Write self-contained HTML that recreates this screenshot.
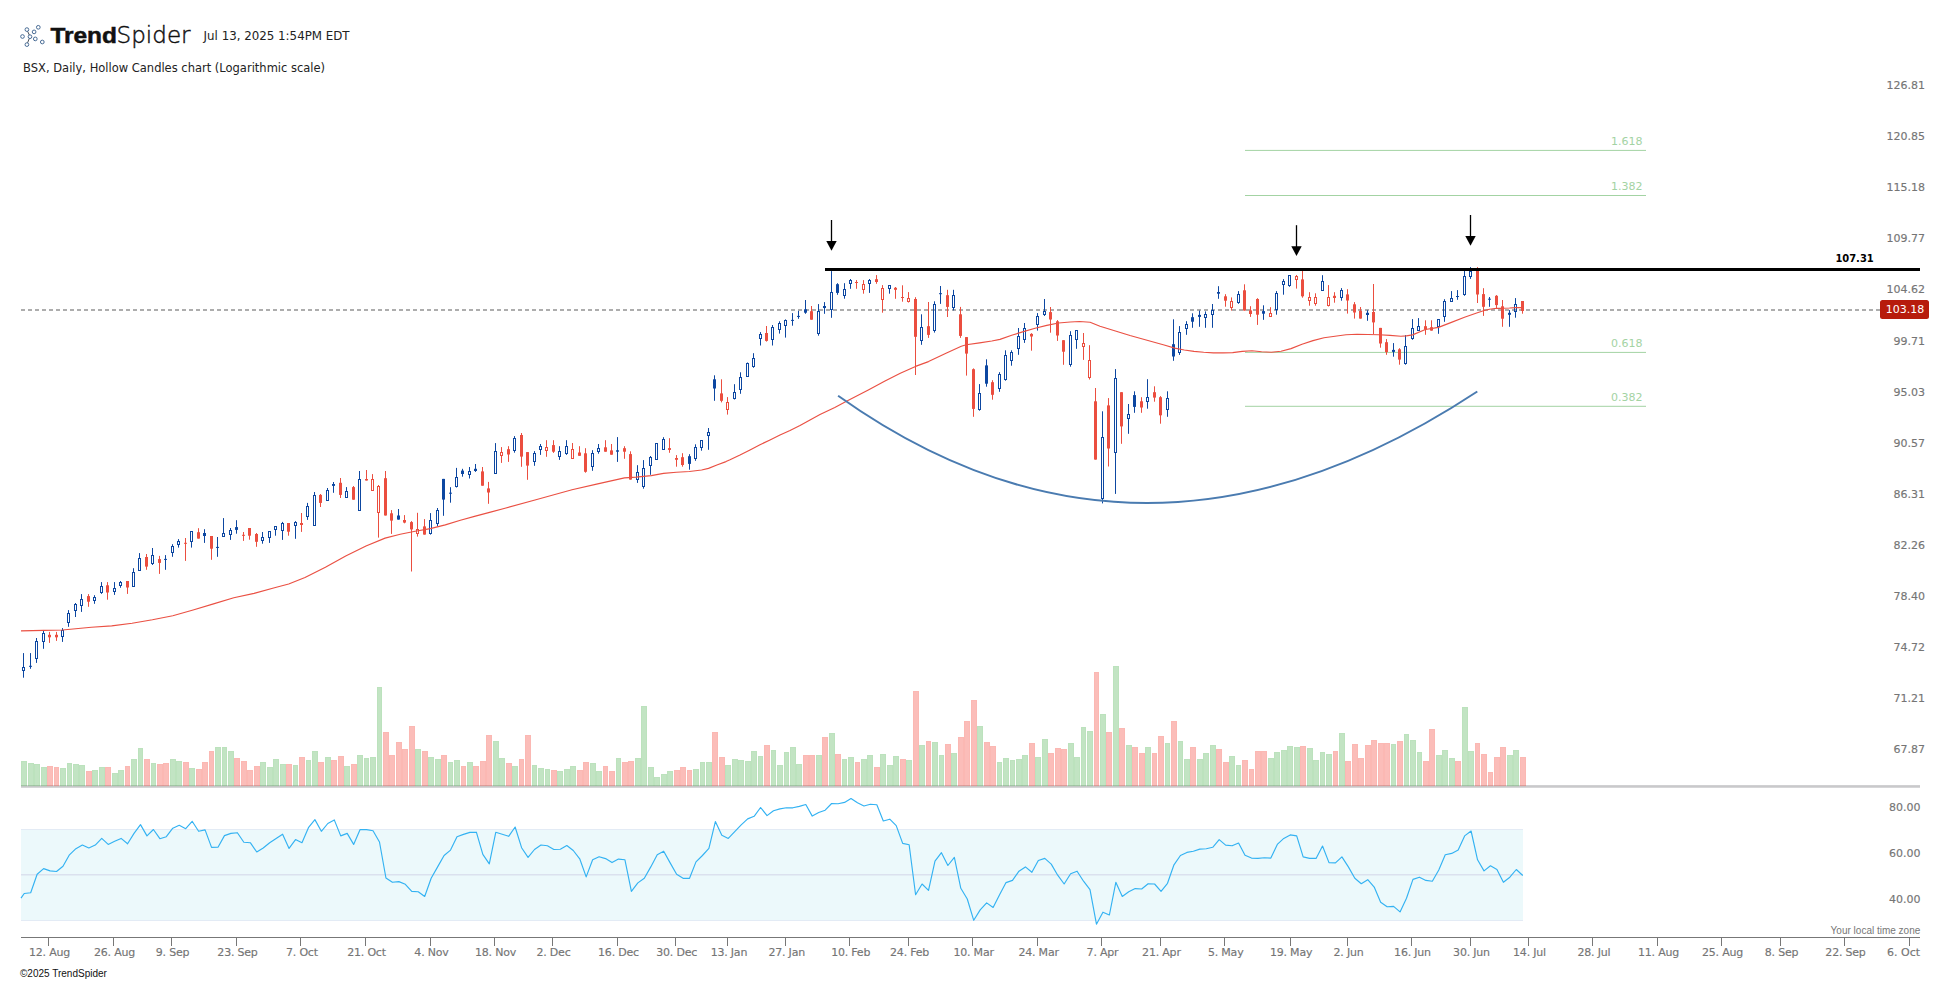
<!DOCTYPE html>
<html><head><meta charset="utf-8"><title>BSX Daily - TrendSpider</title>
<style>
html,body{margin:0;padding:0;background:#fff;}
body{width:1950px;height:983px;overflow:hidden;}
svg{display:block;}
text{font-family:"DejaVu Sans","Liberation Sans",sans-serif;}
.ax{font-size:11px;fill:#757575;stroke:#757575;stroke-width:0.15px;}
.axx{font-size:11px;fill:#757575;stroke:#757575;stroke-width:0.15px;text-anchor:middle;letter-spacing:-0.2px;}
.fib{font-size:11px;fill:#a3d3a3;text-anchor:end;}
.arial{font-family:"Liberation Sans",sans-serif;}
</style></head><body>
<svg width="1950" height="983" viewBox="0 0 1950 983">
<rect width="1950" height="983" fill="#fff"/>
<g id="logo" fill="none" stroke="#3f648f" stroke-width="0.95">
<path d="M27.6 31.3L29.3 35M29.2 38.6L27.6 42.8" stroke="#4a4f57" stroke-width="1"/>
<circle cx="22.5" cy="36.5" r="1.85"/>
<circle cx="26.9" cy="29.6" r="1.85"/>
<circle cx="30" cy="36.7" r="1.85"/>
<circle cx="26.9" cy="44.6" r="1.85"/>
<circle cx="34.1" cy="31.9" r="1.85"/>
<circle cx="38.3" cy="27.3" r="1.85"/>
<circle cx="35.3" cy="38.9" r="1.85"/>
<circle cx="42.3" cy="42" r="1.85"/>
</g>
<text x="50.4" y="42.7" style="font-family:'Liberation Sans',sans-serif;font-weight:bold;font-size:22.7px" fill="#111" stroke="#111" stroke-width="0.5" textLength="66.6" lengthAdjust="spacingAndGlyphs">Trend</text>
<text x="116.6" y="42.7" style="font-family:'DejaVu Sans Light','DejaVu Sans',sans-serif;font-weight:200;font-size:22.8px" fill="#111" stroke="#111" stroke-width="0.45" textLength="74" lengthAdjust="spacingAndGlyphs">Spider</text>
<text x="203.6" y="39.9" style="font-size:12px" fill="#222" textLength="146" lengthAdjust="spacingAndGlyphs">Jul 13, 2025 1:54PM EDT</text>
<text x="23.1" y="71.7" style="font-size:12px" fill="#222" textLength="302" lengthAdjust="spacingAndGlyphs">BSX, Daily, Hollow Candles chart (Logarithmic scale)</text>
<rect x="21" y="785.15" width="1899" height="2.6" fill="#c9c9cb"/>
<g id="volume" shape-rendering="crispEdges">
<rect x="21" y="761" width="6" height="25" fill="rgba(76,175,80,0.34)"/><rect x="21.5" y="761.5" width="5" height="25" fill="none" stroke="rgba(76,175,80,0.045)"/>
<rect x="28" y="763" width="6" height="23" fill="rgba(76,175,80,0.34)"/><rect x="28.5" y="763.5" width="5" height="23" fill="none" stroke="rgba(76,175,80,0.045)"/>
<rect x="34" y="764" width="6" height="22" fill="rgba(76,175,80,0.34)"/><rect x="34.5" y="764.5" width="5" height="22" fill="none" stroke="rgba(76,175,80,0.045)"/>
<rect x="41" y="767" width="6" height="19" fill="rgba(76,175,80,0.34)"/><rect x="41.5" y="767.5" width="5" height="19" fill="none" stroke="rgba(76,175,80,0.045)"/>
<rect x="47" y="766" width="6" height="20" fill="rgba(244,67,54,0.35)"/><rect x="47.5" y="766.5" width="5" height="20" fill="none" stroke="rgba(244,67,54,0.04)"/>
<rect x="54" y="767" width="5" height="19" fill="rgba(244,67,54,0.35)"/><rect x="54.5" y="767.5" width="4" height="19" fill="none" stroke="rgba(244,67,54,0.04)"/>
<rect x="60" y="768" width="6" height="18" fill="rgba(76,175,80,0.34)"/><rect x="60.5" y="768.5" width="5" height="18" fill="none" stroke="rgba(76,175,80,0.045)"/>
<rect x="67" y="763" width="5" height="23" fill="rgba(76,175,80,0.34)"/><rect x="67.5" y="763.5" width="4" height="23" fill="none" stroke="rgba(76,175,80,0.045)"/>
<rect x="73" y="764" width="6" height="22" fill="rgba(76,175,80,0.34)"/><rect x="73.5" y="764.5" width="5" height="22" fill="none" stroke="rgba(76,175,80,0.045)"/>
<rect x="79" y="765" width="6" height="21" fill="rgba(76,175,80,0.34)"/><rect x="79.5" y="765.5" width="5" height="21" fill="none" stroke="rgba(76,175,80,0.045)"/>
<rect x="86" y="771" width="6" height="15" fill="rgba(244,67,54,0.35)"/><rect x="86.5" y="771.5" width="5" height="15" fill="none" stroke="rgba(244,67,54,0.04)"/>
<rect x="92" y="770" width="6" height="16" fill="rgba(76,175,80,0.34)"/><rect x="92.5" y="770.5" width="5" height="16" fill="none" stroke="rgba(76,175,80,0.045)"/>
<rect x="99" y="767" width="6" height="19" fill="rgba(76,175,80,0.34)"/><rect x="99.5" y="767.5" width="5" height="19" fill="none" stroke="rgba(76,175,80,0.045)"/>
<rect x="105" y="767" width="6" height="19" fill="rgba(244,67,54,0.35)"/><rect x="105.5" y="767.5" width="5" height="19" fill="none" stroke="rgba(244,67,54,0.04)"/>
<rect x="112" y="773" width="6" height="13" fill="rgba(76,175,80,0.34)"/><rect x="112.5" y="773.5" width="5" height="13" fill="none" stroke="rgba(76,175,80,0.045)"/>
<rect x="118" y="770" width="6" height="16" fill="rgba(76,175,80,0.34)"/><rect x="118.5" y="770.5" width="5" height="16" fill="none" stroke="rgba(76,175,80,0.045)"/>
<rect x="125" y="766" width="5" height="20" fill="rgba(244,67,54,0.35)"/><rect x="125.5" y="766.5" width="4" height="20" fill="none" stroke="rgba(244,67,54,0.04)"/>
<rect x="131" y="759" width="6" height="27" fill="rgba(76,175,80,0.34)"/><rect x="131.5" y="759.5" width="5" height="27" fill="none" stroke="rgba(76,175,80,0.045)"/>
<rect x="138" y="748" width="5" height="38" fill="rgba(76,175,80,0.34)"/><rect x="138.5" y="748.5" width="4" height="38" fill="none" stroke="rgba(76,175,80,0.045)"/>
<rect x="144" y="759" width="6" height="27" fill="rgba(244,67,54,0.35)"/><rect x="144.5" y="759.5" width="5" height="27" fill="none" stroke="rgba(244,67,54,0.04)"/>
<rect x="151" y="763" width="5" height="23" fill="rgba(76,175,80,0.34)"/><rect x="151.5" y="763.5" width="4" height="23" fill="none" stroke="rgba(76,175,80,0.045)"/>
<rect x="157" y="764" width="6" height="22" fill="rgba(244,67,54,0.35)"/><rect x="157.5" y="764.5" width="5" height="22" fill="none" stroke="rgba(244,67,54,0.04)"/>
<rect x="163" y="763" width="6" height="23" fill="rgba(244,67,54,0.35)"/><rect x="163.5" y="763.5" width="5" height="23" fill="none" stroke="rgba(244,67,54,0.04)"/>
<rect x="170" y="759" width="6" height="27" fill="rgba(76,175,80,0.34)"/><rect x="170.5" y="759.5" width="5" height="27" fill="none" stroke="rgba(76,175,80,0.045)"/>
<rect x="176" y="761" width="6" height="25" fill="rgba(76,175,80,0.34)"/><rect x="176.5" y="761.5" width="5" height="25" fill="none" stroke="rgba(76,175,80,0.045)"/>
<rect x="183" y="762" width="6" height="24" fill="rgba(244,67,54,0.35)"/><rect x="183.5" y="762.5" width="5" height="24" fill="none" stroke="rgba(244,67,54,0.04)"/>
<rect x="189" y="768" width="6" height="18" fill="rgba(76,175,80,0.34)"/><rect x="189.5" y="768.5" width="5" height="18" fill="none" stroke="rgba(76,175,80,0.045)"/>
<rect x="196" y="769" width="6" height="17" fill="rgba(244,67,54,0.35)"/><rect x="196.5" y="769.5" width="5" height="17" fill="none" stroke="rgba(244,67,54,0.04)"/>
<rect x="202" y="762" width="6" height="24" fill="rgba(244,67,54,0.35)"/><rect x="202.5" y="762.5" width="5" height="24" fill="none" stroke="rgba(244,67,54,0.04)"/>
<rect x="209" y="751" width="5" height="35" fill="rgba(244,67,54,0.35)"/><rect x="209.5" y="751.5" width="4" height="35" fill="none" stroke="rgba(244,67,54,0.04)"/>
<rect x="215" y="747" width="6" height="39" fill="rgba(76,175,80,0.34)"/><rect x="215.5" y="747.5" width="5" height="39" fill="none" stroke="rgba(76,175,80,0.045)"/>
<rect x="222" y="747" width="5" height="39" fill="rgba(76,175,80,0.34)"/><rect x="222.5" y="747.5" width="4" height="39" fill="none" stroke="rgba(76,175,80,0.045)"/>
<rect x="228" y="751" width="6" height="35" fill="rgba(76,175,80,0.34)"/><rect x="228.5" y="751.5" width="5" height="35" fill="none" stroke="rgba(76,175,80,0.045)"/>
<rect x="234" y="758" width="6" height="28" fill="rgba(244,67,54,0.35)"/><rect x="234.5" y="758.5" width="5" height="28" fill="none" stroke="rgba(244,67,54,0.04)"/>
<rect x="241" y="761" width="6" height="25" fill="rgba(244,67,54,0.35)"/><rect x="241.5" y="761.5" width="5" height="25" fill="none" stroke="rgba(244,67,54,0.04)"/>
<rect x="247" y="770" width="6" height="16" fill="rgba(244,67,54,0.35)"/><rect x="247.5" y="770.5" width="5" height="16" fill="none" stroke="rgba(244,67,54,0.04)"/>
<rect x="254" y="766" width="6" height="20" fill="rgba(244,67,54,0.35)"/><rect x="254.5" y="766.5" width="5" height="20" fill="none" stroke="rgba(244,67,54,0.04)"/>
<rect x="260" y="762" width="6" height="24" fill="rgba(76,175,80,0.34)"/><rect x="260.5" y="762.5" width="5" height="24" fill="none" stroke="rgba(76,175,80,0.045)"/>
<rect x="267" y="767" width="6" height="19" fill="rgba(76,175,80,0.34)"/><rect x="267.5" y="767.5" width="5" height="19" fill="none" stroke="rgba(76,175,80,0.045)"/>
<rect x="273" y="759" width="6" height="27" fill="rgba(76,175,80,0.34)"/><rect x="273.5" y="759.5" width="5" height="27" fill="none" stroke="rgba(76,175,80,0.045)"/>
<rect x="280" y="764" width="6" height="22" fill="rgba(76,175,80,0.34)"/><rect x="280.5" y="764.5" width="5" height="22" fill="none" stroke="rgba(76,175,80,0.045)"/>
<rect x="286" y="764" width="6" height="22" fill="rgba(244,67,54,0.35)"/><rect x="286.5" y="764.5" width="5" height="22" fill="none" stroke="rgba(244,67,54,0.04)"/>
<rect x="293" y="765" width="5" height="21" fill="rgba(76,175,80,0.34)"/><rect x="293.5" y="765.5" width="4" height="21" fill="none" stroke="rgba(76,175,80,0.045)"/>
<rect x="299" y="757" width="6" height="29" fill="rgba(244,67,54,0.35)"/><rect x="299.5" y="757.5" width="5" height="29" fill="none" stroke="rgba(244,67,54,0.04)"/>
<rect x="306" y="760" width="5" height="26" fill="rgba(76,175,80,0.34)"/><rect x="306.5" y="760.5" width="4" height="26" fill="none" stroke="rgba(76,175,80,0.045)"/>
<rect x="312" y="751" width="6" height="35" fill="rgba(76,175,80,0.34)"/><rect x="312.5" y="751.5" width="5" height="35" fill="none" stroke="rgba(76,175,80,0.045)"/>
<rect x="318" y="762" width="6" height="24" fill="rgba(244,67,54,0.35)"/><rect x="318.5" y="762.5" width="5" height="24" fill="none" stroke="rgba(244,67,54,0.04)"/>
<rect x="325" y="757" width="6" height="29" fill="rgba(76,175,80,0.34)"/><rect x="325.5" y="757.5" width="5" height="29" fill="none" stroke="rgba(76,175,80,0.045)"/>
<rect x="331" y="760" width="6" height="26" fill="rgba(244,67,54,0.35)"/><rect x="331.5" y="760.5" width="5" height="26" fill="none" stroke="rgba(244,67,54,0.04)"/>
<rect x="338" y="756" width="6" height="30" fill="rgba(244,67,54,0.35)"/><rect x="338.5" y="756.5" width="5" height="30" fill="none" stroke="rgba(244,67,54,0.04)"/>
<rect x="344" y="766" width="6" height="20" fill="rgba(76,175,80,0.34)"/><rect x="344.5" y="766.5" width="5" height="20" fill="none" stroke="rgba(76,175,80,0.045)"/>
<rect x="351" y="764" width="6" height="22" fill="rgba(244,67,54,0.35)"/><rect x="351.5" y="764.5" width="5" height="22" fill="none" stroke="rgba(244,67,54,0.04)"/>
<rect x="357" y="755" width="6" height="31" fill="rgba(76,175,80,0.34)"/><rect x="357.5" y="755.5" width="5" height="31" fill="none" stroke="rgba(76,175,80,0.045)"/>
<rect x="364" y="758" width="5" height="28" fill="rgba(76,175,80,0.34)"/><rect x="364.5" y="758.5" width="4" height="28" fill="none" stroke="rgba(76,175,80,0.045)"/>
<rect x="370" y="757" width="6" height="29" fill="rgba(76,175,80,0.34)"/><rect x="370.5" y="757.5" width="5" height="29" fill="none" stroke="rgba(76,175,80,0.045)"/>
<rect x="377" y="687" width="5" height="99" fill="rgba(76,175,80,0.34)"/><rect x="377.5" y="687.5" width="4" height="99" fill="none" stroke="rgba(76,175,80,0.045)"/>
<rect x="383" y="732" width="6" height="54" fill="rgba(244,67,54,0.35)"/><rect x="383.5" y="732.5" width="5" height="54" fill="none" stroke="rgba(244,67,54,0.04)"/>
<rect x="389" y="755" width="6" height="31" fill="rgba(244,67,54,0.35)"/><rect x="389.5" y="755.5" width="5" height="31" fill="none" stroke="rgba(244,67,54,0.04)"/>
<rect x="396" y="742" width="6" height="44" fill="rgba(244,67,54,0.35)"/><rect x="396.5" y="742.5" width="5" height="44" fill="none" stroke="rgba(244,67,54,0.04)"/>
<rect x="402" y="749" width="6" height="37" fill="rgba(244,67,54,0.35)"/><rect x="402.5" y="749.5" width="5" height="37" fill="none" stroke="rgba(244,67,54,0.04)"/>
<rect x="409" y="726" width="6" height="60" fill="rgba(244,67,54,0.35)"/><rect x="409.5" y="726.5" width="5" height="60" fill="none" stroke="rgba(244,67,54,0.04)"/>
<rect x="415" y="749" width="6" height="37" fill="rgba(76,175,80,0.34)"/><rect x="415.5" y="749.5" width="5" height="37" fill="none" stroke="rgba(76,175,80,0.045)"/>
<rect x="422" y="751" width="6" height="35" fill="rgba(244,67,54,0.35)"/><rect x="422.5" y="751.5" width="5" height="35" fill="none" stroke="rgba(244,67,54,0.04)"/>
<rect x="428" y="757" width="6" height="29" fill="rgba(76,175,80,0.34)"/><rect x="428.5" y="757.5" width="5" height="29" fill="none" stroke="rgba(76,175,80,0.045)"/>
<rect x="435" y="759" width="6" height="27" fill="rgba(76,175,80,0.34)"/><rect x="435.5" y="759.5" width="5" height="27" fill="none" stroke="rgba(76,175,80,0.045)"/>
<rect x="441" y="755" width="6" height="31" fill="rgba(244,67,54,0.35)"/><rect x="441.5" y="755.5" width="5" height="31" fill="none" stroke="rgba(244,67,54,0.04)"/>
<rect x="448" y="762" width="5" height="24" fill="rgba(76,175,80,0.34)"/><rect x="448.5" y="762.5" width="4" height="24" fill="none" stroke="rgba(76,175,80,0.045)"/>
<rect x="454" y="760" width="6" height="26" fill="rgba(76,175,80,0.34)"/><rect x="454.5" y="760.5" width="5" height="26" fill="none" stroke="rgba(76,175,80,0.045)"/>
<rect x="461" y="766" width="5" height="20" fill="rgba(244,67,54,0.35)"/><rect x="461.5" y="766.5" width="4" height="20" fill="none" stroke="rgba(244,67,54,0.04)"/>
<rect x="467" y="762" width="6" height="24" fill="rgba(76,175,80,0.34)"/><rect x="467.5" y="762.5" width="5" height="24" fill="none" stroke="rgba(76,175,80,0.045)"/>
<rect x="473" y="766" width="6" height="20" fill="rgba(244,67,54,0.35)"/><rect x="473.5" y="766.5" width="5" height="20" fill="none" stroke="rgba(244,67,54,0.04)"/>
<rect x="480" y="761" width="6" height="25" fill="rgba(244,67,54,0.35)"/><rect x="480.5" y="761.5" width="5" height="25" fill="none" stroke="rgba(244,67,54,0.04)"/>
<rect x="486" y="735" width="6" height="51" fill="rgba(244,67,54,0.35)"/><rect x="486.5" y="735.5" width="5" height="51" fill="none" stroke="rgba(244,67,54,0.04)"/>
<rect x="493" y="741" width="6" height="45" fill="rgba(76,175,80,0.34)"/><rect x="493.5" y="741.5" width="5" height="45" fill="none" stroke="rgba(76,175,80,0.045)"/>
<rect x="499" y="758" width="6" height="28" fill="rgba(76,175,80,0.34)"/><rect x="499.5" y="758.5" width="5" height="28" fill="none" stroke="rgba(76,175,80,0.045)"/>
<rect x="506" y="763" width="6" height="23" fill="rgba(244,67,54,0.35)"/><rect x="506.5" y="763.5" width="5" height="23" fill="none" stroke="rgba(244,67,54,0.04)"/>
<rect x="512" y="766" width="6" height="20" fill="rgba(76,175,80,0.34)"/><rect x="512.5" y="766.5" width="5" height="20" fill="none" stroke="rgba(76,175,80,0.045)"/>
<rect x="519" y="759" width="5" height="27" fill="rgba(244,67,54,0.35)"/><rect x="519.5" y="759.5" width="4" height="27" fill="none" stroke="rgba(244,67,54,0.04)"/>
<rect x="525" y="735" width="6" height="51" fill="rgba(244,67,54,0.35)"/><rect x="525.5" y="735.5" width="5" height="51" fill="none" stroke="rgba(244,67,54,0.04)"/>
<rect x="532" y="765" width="5" height="21" fill="rgba(76,175,80,0.34)"/><rect x="532.5" y="765.5" width="4" height="21" fill="none" stroke="rgba(76,175,80,0.045)"/>
<rect x="538" y="768" width="6" height="18" fill="rgba(76,175,80,0.34)"/><rect x="538.5" y="768.5" width="5" height="18" fill="none" stroke="rgba(76,175,80,0.045)"/>
<rect x="545" y="769" width="5" height="17" fill="rgba(76,175,80,0.34)"/><rect x="545.5" y="769.5" width="4" height="17" fill="none" stroke="rgba(76,175,80,0.045)"/>
<rect x="551" y="770" width="6" height="16" fill="rgba(244,67,54,0.35)"/><rect x="551.5" y="770.5" width="5" height="16" fill="none" stroke="rgba(244,67,54,0.04)"/>
<rect x="557" y="771" width="6" height="15" fill="rgba(76,175,80,0.34)"/><rect x="557.5" y="771.5" width="5" height="15" fill="none" stroke="rgba(76,175,80,0.045)"/>
<rect x="564" y="769" width="6" height="17" fill="rgba(76,175,80,0.34)"/><rect x="564.5" y="769.5" width="5" height="17" fill="none" stroke="rgba(76,175,80,0.045)"/>
<rect x="570" y="766" width="6" height="20" fill="rgba(76,175,80,0.34)"/><rect x="570.5" y="766.5" width="5" height="20" fill="none" stroke="rgba(76,175,80,0.045)"/>
<rect x="577" y="770" width="6" height="16" fill="rgba(244,67,54,0.35)"/><rect x="577.5" y="770.5" width="5" height="16" fill="none" stroke="rgba(244,67,54,0.04)"/>
<rect x="583" y="762" width="6" height="24" fill="rgba(244,67,54,0.35)"/><rect x="583.5" y="762.5" width="5" height="24" fill="none" stroke="rgba(244,67,54,0.04)"/>
<rect x="590" y="763" width="6" height="23" fill="rgba(76,175,80,0.34)"/><rect x="590.5" y="763.5" width="5" height="23" fill="none" stroke="rgba(76,175,80,0.045)"/>
<rect x="596" y="771" width="6" height="15" fill="rgba(76,175,80,0.34)"/><rect x="596.5" y="771.5" width="5" height="15" fill="none" stroke="rgba(76,175,80,0.045)"/>
<rect x="603" y="766" width="5" height="20" fill="rgba(244,67,54,0.35)"/><rect x="603.5" y="766.5" width="4" height="20" fill="none" stroke="rgba(244,67,54,0.04)"/>
<rect x="609" y="771" width="6" height="15" fill="rgba(244,67,54,0.35)"/><rect x="609.5" y="771.5" width="5" height="15" fill="none" stroke="rgba(244,67,54,0.04)"/>
<rect x="616" y="758" width="5" height="28" fill="rgba(76,175,80,0.34)"/><rect x="616.5" y="758.5" width="4" height="28" fill="none" stroke="rgba(76,175,80,0.045)"/>
<rect x="622" y="762" width="6" height="24" fill="rgba(244,67,54,0.35)"/><rect x="622.5" y="762.5" width="5" height="24" fill="none" stroke="rgba(244,67,54,0.04)"/>
<rect x="628" y="761" width="6" height="25" fill="rgba(244,67,54,0.35)"/><rect x="628.5" y="761.5" width="5" height="25" fill="none" stroke="rgba(244,67,54,0.04)"/>
<rect x="635" y="758" width="6" height="28" fill="rgba(76,175,80,0.34)"/><rect x="635.5" y="758.5" width="5" height="28" fill="none" stroke="rgba(76,175,80,0.045)"/>
<rect x="641" y="706" width="6" height="80" fill="rgba(76,175,80,0.34)"/><rect x="641.5" y="706.5" width="5" height="80" fill="none" stroke="rgba(76,175,80,0.045)"/>
<rect x="648" y="767" width="6" height="19" fill="rgba(76,175,80,0.34)"/><rect x="648.5" y="767.5" width="5" height="19" fill="none" stroke="rgba(76,175,80,0.045)"/>
<rect x="654" y="777" width="6" height="9" fill="rgba(76,175,80,0.34)"/><rect x="654.5" y="777.5" width="5" height="9" fill="none" stroke="rgba(76,175,80,0.045)"/>
<rect x="661" y="774" width="6" height="12" fill="rgba(76,175,80,0.34)"/><rect x="661.5" y="774.5" width="5" height="12" fill="none" stroke="rgba(76,175,80,0.045)"/>
<rect x="667" y="771" width="6" height="15" fill="rgba(76,175,80,0.34)"/><rect x="667.5" y="771.5" width="5" height="15" fill="none" stroke="rgba(76,175,80,0.045)"/>
<rect x="674" y="770" width="6" height="16" fill="rgba(244,67,54,0.35)"/><rect x="674.5" y="770.5" width="5" height="16" fill="none" stroke="rgba(244,67,54,0.04)"/>
<rect x="680" y="767" width="6" height="19" fill="rgba(244,67,54,0.35)"/><rect x="680.5" y="767.5" width="5" height="19" fill="none" stroke="rgba(244,67,54,0.04)"/>
<rect x="687" y="770" width="5" height="16" fill="rgba(244,67,54,0.35)"/><rect x="687.5" y="770.5" width="4" height="16" fill="none" stroke="rgba(244,67,54,0.04)"/>
<rect x="693" y="769" width="6" height="17" fill="rgba(76,175,80,0.34)"/><rect x="693.5" y="769.5" width="5" height="17" fill="none" stroke="rgba(76,175,80,0.045)"/>
<rect x="700" y="762" width="5" height="24" fill="rgba(76,175,80,0.34)"/><rect x="700.5" y="762.5" width="4" height="24" fill="none" stroke="rgba(76,175,80,0.045)"/>
<rect x="706" y="762" width="6" height="24" fill="rgba(76,175,80,0.34)"/><rect x="706.5" y="762.5" width="5" height="24" fill="none" stroke="rgba(76,175,80,0.045)"/>
<rect x="712" y="732" width="6" height="54" fill="rgba(244,67,54,0.35)"/><rect x="712.5" y="732.5" width="5" height="54" fill="none" stroke="rgba(244,67,54,0.04)"/>
<rect x="719" y="757" width="6" height="29" fill="rgba(244,67,54,0.35)"/><rect x="719.5" y="757.5" width="5" height="29" fill="none" stroke="rgba(244,67,54,0.04)"/>
<rect x="725" y="765" width="6" height="21" fill="rgba(76,175,80,0.34)"/><rect x="725.5" y="765.5" width="5" height="21" fill="none" stroke="rgba(76,175,80,0.045)"/>
<rect x="732" y="759" width="6" height="27" fill="rgba(76,175,80,0.34)"/><rect x="732.5" y="759.5" width="5" height="27" fill="none" stroke="rgba(76,175,80,0.045)"/>
<rect x="738" y="760" width="6" height="26" fill="rgba(76,175,80,0.34)"/><rect x="738.5" y="760.5" width="5" height="26" fill="none" stroke="rgba(76,175,80,0.045)"/>
<rect x="745" y="761" width="6" height="25" fill="rgba(76,175,80,0.34)"/><rect x="745.5" y="761.5" width="5" height="25" fill="none" stroke="rgba(76,175,80,0.045)"/>
<rect x="751" y="751" width="6" height="35" fill="rgba(76,175,80,0.34)"/><rect x="751.5" y="751.5" width="5" height="35" fill="none" stroke="rgba(76,175,80,0.045)"/>
<rect x="758" y="756" width="5" height="30" fill="rgba(76,175,80,0.34)"/><rect x="758.5" y="756.5" width="4" height="30" fill="none" stroke="rgba(76,175,80,0.045)"/>
<rect x="764" y="745" width="6" height="41" fill="rgba(244,67,54,0.35)"/><rect x="764.5" y="745.5" width="5" height="41" fill="none" stroke="rgba(244,67,54,0.04)"/>
<rect x="771" y="750" width="5" height="36" fill="rgba(76,175,80,0.34)"/><rect x="771.5" y="750.5" width="4" height="36" fill="none" stroke="rgba(76,175,80,0.045)"/>
<rect x="777" y="765" width="6" height="21" fill="rgba(76,175,80,0.34)"/><rect x="777.5" y="765.5" width="5" height="21" fill="none" stroke="rgba(76,175,80,0.045)"/>
<rect x="784" y="752" width="5" height="34" fill="rgba(76,175,80,0.34)"/><rect x="784.5" y="752.5" width="4" height="34" fill="none" stroke="rgba(76,175,80,0.045)"/>
<rect x="790" y="747" width="6" height="39" fill="rgba(76,175,80,0.34)"/><rect x="790.5" y="747.5" width="5" height="39" fill="none" stroke="rgba(76,175,80,0.045)"/>
<rect x="796" y="764" width="6" height="22" fill="rgba(76,175,80,0.34)"/><rect x="796.5" y="764.5" width="5" height="22" fill="none" stroke="rgba(76,175,80,0.045)"/>
<rect x="803" y="755" width="6" height="31" fill="rgba(244,67,54,0.35)"/><rect x="803.5" y="755.5" width="5" height="31" fill="none" stroke="rgba(244,67,54,0.04)"/>
<rect x="809" y="755" width="6" height="31" fill="rgba(244,67,54,0.35)"/><rect x="809.5" y="755.5" width="5" height="31" fill="none" stroke="rgba(244,67,54,0.04)"/>
<rect x="816" y="755" width="6" height="31" fill="rgba(76,175,80,0.34)"/><rect x="816.5" y="755.5" width="5" height="31" fill="none" stroke="rgba(76,175,80,0.045)"/>
<rect x="822" y="737" width="6" height="49" fill="rgba(244,67,54,0.35)"/><rect x="822.5" y="737.5" width="5" height="49" fill="none" stroke="rgba(244,67,54,0.04)"/>
<rect x="829" y="733" width="6" height="53" fill="rgba(76,175,80,0.34)"/><rect x="829.5" y="733.5" width="5" height="53" fill="none" stroke="rgba(76,175,80,0.045)"/>
<rect x="835" y="754" width="6" height="32" fill="rgba(244,67,54,0.35)"/><rect x="835.5" y="754.5" width="5" height="32" fill="none" stroke="rgba(244,67,54,0.04)"/>
<rect x="842" y="759" width="5" height="27" fill="rgba(76,175,80,0.34)"/><rect x="842.5" y="759.5" width="4" height="27" fill="none" stroke="rgba(76,175,80,0.045)"/>
<rect x="848" y="757" width="6" height="29" fill="rgba(76,175,80,0.34)"/><rect x="848.5" y="757.5" width="5" height="29" fill="none" stroke="rgba(76,175,80,0.045)"/>
<rect x="855" y="762" width="5" height="24" fill="rgba(244,67,54,0.35)"/><rect x="855.5" y="762.5" width="4" height="24" fill="none" stroke="rgba(244,67,54,0.04)"/>
<rect x="861" y="759" width="6" height="27" fill="rgba(76,175,80,0.34)"/><rect x="861.5" y="759.5" width="5" height="27" fill="none" stroke="rgba(76,175,80,0.045)"/>
<rect x="867" y="755" width="6" height="31" fill="rgba(76,175,80,0.34)"/><rect x="867.5" y="755.5" width="5" height="31" fill="none" stroke="rgba(76,175,80,0.045)"/>
<rect x="874" y="767" width="6" height="19" fill="rgba(244,67,54,0.35)"/><rect x="874.5" y="767.5" width="5" height="19" fill="none" stroke="rgba(244,67,54,0.04)"/>
<rect x="880" y="754" width="6" height="32" fill="rgba(76,175,80,0.34)"/><rect x="880.5" y="754.5" width="5" height="32" fill="none" stroke="rgba(76,175,80,0.045)"/>
<rect x="887" y="765" width="6" height="21" fill="rgba(76,175,80,0.34)"/><rect x="887.5" y="765.5" width="5" height="21" fill="none" stroke="rgba(76,175,80,0.045)"/>
<rect x="893" y="756" width="6" height="30" fill="rgba(76,175,80,0.34)"/><rect x="893.5" y="756.5" width="5" height="30" fill="none" stroke="rgba(76,175,80,0.045)"/>
<rect x="900" y="759" width="6" height="27" fill="rgba(244,67,54,0.35)"/><rect x="900.5" y="759.5" width="5" height="27" fill="none" stroke="rgba(244,67,54,0.04)"/>
<rect x="906" y="760" width="6" height="26" fill="rgba(76,175,80,0.34)"/><rect x="906.5" y="760.5" width="5" height="26" fill="none" stroke="rgba(76,175,80,0.045)"/>
<rect x="913" y="691" width="6" height="95" fill="rgba(244,67,54,0.35)"/><rect x="913.5" y="691.5" width="5" height="95" fill="none" stroke="rgba(244,67,54,0.04)"/>
<rect x="919" y="745" width="6" height="41" fill="rgba(76,175,80,0.34)"/><rect x="919.5" y="745.5" width="5" height="41" fill="none" stroke="rgba(76,175,80,0.045)"/>
<rect x="926" y="741" width="5" height="45" fill="rgba(244,67,54,0.35)"/><rect x="926.5" y="741.5" width="4" height="45" fill="none" stroke="rgba(244,67,54,0.04)"/>
<rect x="932" y="742" width="6" height="44" fill="rgba(76,175,80,0.34)"/><rect x="932.5" y="742.5" width="5" height="44" fill="none" stroke="rgba(76,175,80,0.045)"/>
<rect x="939" y="755" width="5" height="31" fill="rgba(76,175,80,0.34)"/><rect x="939.5" y="755.5" width="4" height="31" fill="none" stroke="rgba(76,175,80,0.045)"/>
<rect x="945" y="744" width="6" height="42" fill="rgba(244,67,54,0.35)"/><rect x="945.5" y="744.5" width="5" height="42" fill="none" stroke="rgba(244,67,54,0.04)"/>
<rect x="951" y="753" width="6" height="33" fill="rgba(76,175,80,0.34)"/><rect x="951.5" y="753.5" width="5" height="33" fill="none" stroke="rgba(76,175,80,0.045)"/>
<rect x="958" y="737" width="6" height="49" fill="rgba(244,67,54,0.35)"/><rect x="958.5" y="737.5" width="5" height="49" fill="none" stroke="rgba(244,67,54,0.04)"/>
<rect x="964" y="721" width="6" height="65" fill="rgba(244,67,54,0.35)"/><rect x="964.5" y="721.5" width="5" height="65" fill="none" stroke="rgba(244,67,54,0.04)"/>
<rect x="971" y="700" width="6" height="86" fill="rgba(244,67,54,0.35)"/><rect x="971.5" y="700.5" width="5" height="86" fill="none" stroke="rgba(244,67,54,0.04)"/>
<rect x="977" y="726" width="6" height="60" fill="rgba(76,175,80,0.34)"/><rect x="977.5" y="726.5" width="5" height="60" fill="none" stroke="rgba(76,175,80,0.045)"/>
<rect x="984" y="742" width="6" height="44" fill="rgba(244,67,54,0.35)"/><rect x="984.5" y="742.5" width="5" height="44" fill="none" stroke="rgba(244,67,54,0.04)"/>
<rect x="990" y="746" width="6" height="40" fill="rgba(244,67,54,0.35)"/><rect x="990.5" y="746.5" width="5" height="40" fill="none" stroke="rgba(244,67,54,0.04)"/>
<rect x="997" y="762" width="5" height="24" fill="rgba(76,175,80,0.34)"/><rect x="997.5" y="762.5" width="4" height="24" fill="none" stroke="rgba(76,175,80,0.045)"/>
<rect x="1003" y="758" width="6" height="28" fill="rgba(76,175,80,0.34)"/><rect x="1003.5" y="758.5" width="5" height="28" fill="none" stroke="rgba(76,175,80,0.045)"/>
<rect x="1010" y="760" width="5" height="26" fill="rgba(76,175,80,0.34)"/><rect x="1010.5" y="760.5" width="4" height="26" fill="none" stroke="rgba(76,175,80,0.045)"/>
<rect x="1016" y="759" width="6" height="27" fill="rgba(76,175,80,0.34)"/><rect x="1016.5" y="759.5" width="5" height="27" fill="none" stroke="rgba(76,175,80,0.045)"/>
<rect x="1022" y="755" width="6" height="31" fill="rgba(76,175,80,0.34)"/><rect x="1022.5" y="755.5" width="5" height="31" fill="none" stroke="rgba(76,175,80,0.045)"/>
<rect x="1029" y="743" width="6" height="43" fill="rgba(244,67,54,0.35)"/><rect x="1029.5" y="743.5" width="5" height="43" fill="none" stroke="rgba(244,67,54,0.04)"/>
<rect x="1035" y="757" width="6" height="29" fill="rgba(76,175,80,0.34)"/><rect x="1035.5" y="757.5" width="5" height="29" fill="none" stroke="rgba(76,175,80,0.045)"/>
<rect x="1042" y="739" width="6" height="47" fill="rgba(76,175,80,0.34)"/><rect x="1042.5" y="739.5" width="5" height="47" fill="none" stroke="rgba(76,175,80,0.045)"/>
<rect x="1048" y="753" width="6" height="33" fill="rgba(244,67,54,0.35)"/><rect x="1048.5" y="753.5" width="5" height="33" fill="none" stroke="rgba(244,67,54,0.04)"/>
<rect x="1055" y="748" width="6" height="38" fill="rgba(244,67,54,0.35)"/><rect x="1055.5" y="748.5" width="5" height="38" fill="none" stroke="rgba(244,67,54,0.04)"/>
<rect x="1061" y="749" width="6" height="37" fill="rgba(244,67,54,0.35)"/><rect x="1061.5" y="749.5" width="5" height="37" fill="none" stroke="rgba(244,67,54,0.04)"/>
<rect x="1068" y="743" width="6" height="43" fill="rgba(76,175,80,0.34)"/><rect x="1068.5" y="743.5" width="5" height="43" fill="none" stroke="rgba(76,175,80,0.045)"/>
<rect x="1074" y="757" width="6" height="29" fill="rgba(76,175,80,0.34)"/><rect x="1074.5" y="757.5" width="5" height="29" fill="none" stroke="rgba(76,175,80,0.045)"/>
<rect x="1081" y="727" width="5" height="59" fill="rgba(76,175,80,0.34)"/><rect x="1081.5" y="727.5" width="4" height="59" fill="none" stroke="rgba(76,175,80,0.045)"/>
<rect x="1087" y="731" width="6" height="55" fill="rgba(76,175,80,0.34)"/><rect x="1087.5" y="731.5" width="5" height="55" fill="none" stroke="rgba(76,175,80,0.045)"/>
<rect x="1094" y="672" width="5" height="114" fill="rgba(244,67,54,0.35)"/><rect x="1094.5" y="672.5" width="4" height="114" fill="none" stroke="rgba(244,67,54,0.04)"/>
<rect x="1100" y="714" width="6" height="72" fill="rgba(76,175,80,0.34)"/><rect x="1100.5" y="714.5" width="5" height="72" fill="none" stroke="rgba(76,175,80,0.045)"/>
<rect x="1106" y="732" width="6" height="54" fill="rgba(244,67,54,0.35)"/><rect x="1106.5" y="732.5" width="5" height="54" fill="none" stroke="rgba(244,67,54,0.04)"/>
<rect x="1113" y="666" width="6" height="120" fill="rgba(76,175,80,0.34)"/><rect x="1113.5" y="666.5" width="5" height="120" fill="none" stroke="rgba(76,175,80,0.045)"/>
<rect x="1119" y="728" width="6" height="58" fill="rgba(244,67,54,0.35)"/><rect x="1119.5" y="728.5" width="5" height="58" fill="none" stroke="rgba(244,67,54,0.04)"/>
<rect x="1126" y="745" width="6" height="41" fill="rgba(76,175,80,0.34)"/><rect x="1126.5" y="745.5" width="5" height="41" fill="none" stroke="rgba(76,175,80,0.045)"/>
<rect x="1132" y="747" width="6" height="39" fill="rgba(244,67,54,0.35)"/><rect x="1132.5" y="747.5" width="5" height="39" fill="none" stroke="rgba(244,67,54,0.04)"/>
<rect x="1139" y="753" width="6" height="33" fill="rgba(244,67,54,0.35)"/><rect x="1139.5" y="753.5" width="5" height="33" fill="none" stroke="rgba(244,67,54,0.04)"/>
<rect x="1145" y="747" width="6" height="39" fill="rgba(76,175,80,0.34)"/><rect x="1145.5" y="747.5" width="5" height="39" fill="none" stroke="rgba(76,175,80,0.045)"/>
<rect x="1152" y="753" width="5" height="33" fill="rgba(244,67,54,0.35)"/><rect x="1152.5" y="753.5" width="4" height="33" fill="none" stroke="rgba(244,67,54,0.04)"/>
<rect x="1158" y="736" width="6" height="50" fill="rgba(244,67,54,0.35)"/><rect x="1158.5" y="736.5" width="5" height="50" fill="none" stroke="rgba(244,67,54,0.04)"/>
<rect x="1165" y="743" width="5" height="43" fill="rgba(76,175,80,0.34)"/><rect x="1165.5" y="743.5" width="4" height="43" fill="none" stroke="rgba(76,175,80,0.045)"/>
<rect x="1171" y="721" width="6" height="65" fill="rgba(244,67,54,0.35)"/><rect x="1171.5" y="721.5" width="5" height="65" fill="none" stroke="rgba(244,67,54,0.04)"/>
<rect x="1178" y="741" width="5" height="45" fill="rgba(76,175,80,0.34)"/><rect x="1178.5" y="741.5" width="4" height="45" fill="none" stroke="rgba(76,175,80,0.045)"/>
<rect x="1184" y="759" width="6" height="27" fill="rgba(76,175,80,0.34)"/><rect x="1184.5" y="759.5" width="5" height="27" fill="none" stroke="rgba(76,175,80,0.045)"/>
<rect x="1190" y="747" width="6" height="39" fill="rgba(244,67,54,0.35)"/><rect x="1190.5" y="747.5" width="5" height="39" fill="none" stroke="rgba(244,67,54,0.04)"/>
<rect x="1197" y="759" width="6" height="27" fill="rgba(76,175,80,0.34)"/><rect x="1197.5" y="759.5" width="5" height="27" fill="none" stroke="rgba(76,175,80,0.045)"/>
<rect x="1203" y="753" width="6" height="33" fill="rgba(76,175,80,0.34)"/><rect x="1203.5" y="753.5" width="5" height="33" fill="none" stroke="rgba(76,175,80,0.045)"/>
<rect x="1210" y="745" width="6" height="41" fill="rgba(76,175,80,0.34)"/><rect x="1210.5" y="745.5" width="5" height="41" fill="none" stroke="rgba(76,175,80,0.045)"/>
<rect x="1216" y="749" width="6" height="37" fill="rgba(244,67,54,0.35)"/><rect x="1216.5" y="749.5" width="5" height="37" fill="none" stroke="rgba(244,67,54,0.04)"/>
<rect x="1223" y="762" width="6" height="24" fill="rgba(244,67,54,0.35)"/><rect x="1223.5" y="762.5" width="5" height="24" fill="none" stroke="rgba(244,67,54,0.04)"/>
<rect x="1229" y="756" width="6" height="30" fill="rgba(76,175,80,0.34)"/><rect x="1229.5" y="756.5" width="5" height="30" fill="none" stroke="rgba(76,175,80,0.045)"/>
<rect x="1236" y="765" width="5" height="21" fill="rgba(76,175,80,0.34)"/><rect x="1236.5" y="765.5" width="4" height="21" fill="none" stroke="rgba(76,175,80,0.045)"/>
<rect x="1242" y="760" width="6" height="26" fill="rgba(244,67,54,0.35)"/><rect x="1242.5" y="760.5" width="5" height="26" fill="none" stroke="rgba(244,67,54,0.04)"/>
<rect x="1249" y="769" width="5" height="17" fill="rgba(244,67,54,0.35)"/><rect x="1249.5" y="769.5" width="4" height="17" fill="none" stroke="rgba(244,67,54,0.04)"/>
<rect x="1255" y="751" width="6" height="35" fill="rgba(244,67,54,0.35)"/><rect x="1255.5" y="751.5" width="5" height="35" fill="none" stroke="rgba(244,67,54,0.04)"/>
<rect x="1261" y="751" width="6" height="35" fill="rgba(244,67,54,0.35)"/><rect x="1261.5" y="751.5" width="5" height="35" fill="none" stroke="rgba(244,67,54,0.04)"/>
<rect x="1268" y="758" width="6" height="28" fill="rgba(76,175,80,0.34)"/><rect x="1268.5" y="758.5" width="5" height="28" fill="none" stroke="rgba(76,175,80,0.045)"/>
<rect x="1274" y="752" width="6" height="34" fill="rgba(76,175,80,0.34)"/><rect x="1274.5" y="752.5" width="5" height="34" fill="none" stroke="rgba(76,175,80,0.045)"/>
<rect x="1281" y="750" width="6" height="36" fill="rgba(76,175,80,0.34)"/><rect x="1281.5" y="750.5" width="5" height="36" fill="none" stroke="rgba(76,175,80,0.045)"/>
<rect x="1287" y="746" width="6" height="40" fill="rgba(76,175,80,0.34)"/><rect x="1287.5" y="746.5" width="5" height="40" fill="none" stroke="rgba(76,175,80,0.045)"/>
<rect x="1294" y="747" width="6" height="39" fill="rgba(76,175,80,0.34)"/><rect x="1294.5" y="747.5" width="5" height="39" fill="none" stroke="rgba(76,175,80,0.045)"/>
<rect x="1300" y="746" width="6" height="40" fill="rgba(244,67,54,0.35)"/><rect x="1300.5" y="746.5" width="5" height="40" fill="none" stroke="rgba(244,67,54,0.04)"/>
<rect x="1307" y="748" width="6" height="38" fill="rgba(76,175,80,0.34)"/><rect x="1307.5" y="748.5" width="5" height="38" fill="none" stroke="rgba(76,175,80,0.045)"/>
<rect x="1313" y="760" width="6" height="26" fill="rgba(76,175,80,0.34)"/><rect x="1313.5" y="760.5" width="5" height="26" fill="none" stroke="rgba(76,175,80,0.045)"/>
<rect x="1320" y="752" width="5" height="34" fill="rgba(76,175,80,0.34)"/><rect x="1320.5" y="752.5" width="4" height="34" fill="none" stroke="rgba(76,175,80,0.045)"/>
<rect x="1326" y="754" width="6" height="32" fill="rgba(76,175,80,0.34)"/><rect x="1326.5" y="754.5" width="5" height="32" fill="none" stroke="rgba(76,175,80,0.045)"/>
<rect x="1333" y="751" width="5" height="35" fill="rgba(244,67,54,0.35)"/><rect x="1333.5" y="751.5" width="4" height="35" fill="none" stroke="rgba(244,67,54,0.04)"/>
<rect x="1339" y="733" width="6" height="53" fill="rgba(76,175,80,0.34)"/><rect x="1339.5" y="733.5" width="5" height="53" fill="none" stroke="rgba(76,175,80,0.045)"/>
<rect x="1345" y="761" width="6" height="25" fill="rgba(244,67,54,0.35)"/><rect x="1345.5" y="761.5" width="5" height="25" fill="none" stroke="rgba(244,67,54,0.04)"/>
<rect x="1352" y="744" width="6" height="42" fill="rgba(244,67,54,0.35)"/><rect x="1352.5" y="744.5" width="5" height="42" fill="none" stroke="rgba(244,67,54,0.04)"/>
<rect x="1358" y="758" width="6" height="28" fill="rgba(244,67,54,0.35)"/><rect x="1358.5" y="758.5" width="5" height="28" fill="none" stroke="rgba(244,67,54,0.04)"/>
<rect x="1365" y="745" width="6" height="41" fill="rgba(244,67,54,0.35)"/><rect x="1365.5" y="745.5" width="5" height="41" fill="none" stroke="rgba(244,67,54,0.04)"/>
<rect x="1371" y="740" width="6" height="46" fill="rgba(244,67,54,0.35)"/><rect x="1371.5" y="740.5" width="5" height="46" fill="none" stroke="rgba(244,67,54,0.04)"/>
<rect x="1378" y="743" width="6" height="43" fill="rgba(244,67,54,0.35)"/><rect x="1378.5" y="743.5" width="5" height="43" fill="none" stroke="rgba(244,67,54,0.04)"/>
<rect x="1384" y="743" width="6" height="43" fill="rgba(244,67,54,0.35)"/><rect x="1384.5" y="743.5" width="5" height="43" fill="none" stroke="rgba(244,67,54,0.04)"/>
<rect x="1391" y="744" width="5" height="42" fill="rgba(76,175,80,0.34)"/><rect x="1391.5" y="744.5" width="4" height="42" fill="none" stroke="rgba(76,175,80,0.045)"/>
<rect x="1397" y="741" width="6" height="45" fill="rgba(244,67,54,0.35)"/><rect x="1397.5" y="741.5" width="5" height="45" fill="none" stroke="rgba(244,67,54,0.04)"/>
<rect x="1404" y="734" width="5" height="52" fill="rgba(76,175,80,0.34)"/><rect x="1404.5" y="734.5" width="4" height="52" fill="none" stroke="rgba(76,175,80,0.045)"/>
<rect x="1410" y="740" width="6" height="46" fill="rgba(76,175,80,0.34)"/><rect x="1410.5" y="740.5" width="5" height="46" fill="none" stroke="rgba(76,175,80,0.045)"/>
<rect x="1417" y="752" width="5" height="34" fill="rgba(76,175,80,0.34)"/><rect x="1417.5" y="752.5" width="4" height="34" fill="none" stroke="rgba(76,175,80,0.045)"/>
<rect x="1423" y="761" width="6" height="25" fill="rgba(244,67,54,0.35)"/><rect x="1423.5" y="761.5" width="5" height="25" fill="none" stroke="rgba(244,67,54,0.04)"/>
<rect x="1429" y="729" width="6" height="57" fill="rgba(244,67,54,0.35)"/><rect x="1429.5" y="729.5" width="5" height="57" fill="none" stroke="rgba(244,67,54,0.04)"/>
<rect x="1436" y="755" width="6" height="31" fill="rgba(76,175,80,0.34)"/><rect x="1436.5" y="755.5" width="5" height="31" fill="none" stroke="rgba(76,175,80,0.045)"/>
<rect x="1442" y="750" width="6" height="36" fill="rgba(76,175,80,0.34)"/><rect x="1442.5" y="750.5" width="5" height="36" fill="none" stroke="rgba(76,175,80,0.045)"/>
<rect x="1449" y="758" width="6" height="28" fill="rgba(76,175,80,0.34)"/><rect x="1449.5" y="758.5" width="5" height="28" fill="none" stroke="rgba(76,175,80,0.045)"/>
<rect x="1455" y="761" width="6" height="25" fill="rgba(244,67,54,0.35)"/><rect x="1455.5" y="761.5" width="5" height="25" fill="none" stroke="rgba(244,67,54,0.04)"/>
<rect x="1462" y="707" width="6" height="79" fill="rgba(76,175,80,0.34)"/><rect x="1462.5" y="707.5" width="5" height="79" fill="none" stroke="rgba(76,175,80,0.045)"/>
<rect x="1468" y="751" width="6" height="35" fill="rgba(76,175,80,0.34)"/><rect x="1468.5" y="751.5" width="5" height="35" fill="none" stroke="rgba(76,175,80,0.045)"/>
<rect x="1475" y="743" width="5" height="43" fill="rgba(244,67,54,0.35)"/><rect x="1475.5" y="743.5" width="4" height="43" fill="none" stroke="rgba(244,67,54,0.04)"/>
<rect x="1481" y="754" width="6" height="32" fill="rgba(244,67,54,0.35)"/><rect x="1481.5" y="754.5" width="5" height="32" fill="none" stroke="rgba(244,67,54,0.04)"/>
<rect x="1488" y="772" width="5" height="14" fill="rgba(244,67,54,0.35)"/><rect x="1488.5" y="772.5" width="4" height="14" fill="none" stroke="rgba(244,67,54,0.04)"/>
<rect x="1494" y="757" width="6" height="29" fill="rgba(244,67,54,0.35)"/><rect x="1494.5" y="757.5" width="5" height="29" fill="none" stroke="rgba(244,67,54,0.04)"/>
<rect x="1500" y="747" width="6" height="39" fill="rgba(244,67,54,0.35)"/><rect x="1500.5" y="747.5" width="5" height="39" fill="none" stroke="rgba(244,67,54,0.04)"/>
<rect x="1507" y="755" width="6" height="31" fill="rgba(76,175,80,0.34)"/><rect x="1507.5" y="755.5" width="5" height="31" fill="none" stroke="rgba(76,175,80,0.045)"/>
<rect x="1513" y="750" width="6" height="36" fill="rgba(76,175,80,0.34)"/><rect x="1513.5" y="750.5" width="5" height="36" fill="none" stroke="rgba(76,175,80,0.045)"/>
<rect x="1520" y="757" width="6" height="29" fill="rgba(244,67,54,0.35)"/><rect x="1520.5" y="757.5" width="5" height="29" fill="none" stroke="rgba(244,67,54,0.04)"/>
</g>
<rect x="1245" y="149.9" width="401" height="1" fill="#a3d3a3"/>
<text class="fib" x="1642.6" y="145">1.618</text>
<rect x="1245" y="195" width="401" height="1" fill="#a3d3a3"/>
<text class="fib" x="1642.6" y="190.1">1.382</text>
<rect x="1245" y="351.9" width="401" height="1" fill="#a3d3a3"/>
<text class="fib" x="1642.6" y="347">0.618</text>
<rect x="1245" y="405.8" width="401" height="1" fill="#a3d3a3"/>
<text class="fib" x="1642.6" y="400.9">0.382</text>
<line x1="21" y1="310" x2="1880" y2="310" stroke="#adadad" stroke-width="2" stroke-dasharray="4 3"/>
<g id="candles">
<path d="M23.5 653.1V667M23.5 671V677.7" stroke="#0d47a1" stroke-width="1"/><rect x="22.5" y="667.5" width="2" height="3" fill="none" stroke="#0d47a1" stroke-width="1"/>
<path d="M30.5 653.1V668.8M29.0 666.3H32.0" stroke="#0d47a1" stroke-width="1" fill="none"/>
<path d="M36.5 638V641M36.5 659V662.9" stroke="#0d47a1" stroke-width="1"/><rect x="35.5" y="641.5" width="2" height="17" fill="none" stroke="#0d47a1" stroke-width="1"/>
<path d="M43.5 630.7V633M43.5 642V648.8" stroke="#0d47a1" stroke-width="1"/><rect x="42.5" y="633.5" width="2" height="8" fill="none" stroke="#0d47a1" stroke-width="1"/>
<path d="M49.5 631.9V642.9" stroke="#eb4e3f" stroke-width="1"/><rect x="48.0" y="634.8" width="3" height="2.5" fill="#eb4e3f"/>
<path d="M56.5 631.9V640.9" stroke="#eb4e3f" stroke-width="1"/><rect x="55.0" y="634.8" width="3" height="2.5" fill="#eb4e3f"/>
<path d="M62.5 628.1V630M62.5 637V641.9" stroke="#0d47a1" stroke-width="1"/><rect x="61.5" y="630.5" width="2" height="6" fill="none" stroke="#0d47a1" stroke-width="1"/>
<path d="M68.5 610.1V613M68.5 623V626.8" stroke="#0d47a1" stroke-width="1"/><rect x="67.5" y="613.5" width="2" height="9" fill="none" stroke="#0d47a1" stroke-width="1"/>
<path d="M75.5 603V604M75.5 611V617" stroke="#0d47a1" stroke-width="1"/><rect x="74.5" y="604.5" width="2" height="6" fill="none" stroke="#0d47a1" stroke-width="1"/>
<path d="M81.5 594.1V599M81.5 606V611.9" stroke="#0d47a1" stroke-width="1"/><rect x="80.5" y="599.5" width="2" height="6" fill="none" stroke="#0d47a1" stroke-width="1"/>
<path d="M88.5 594.1V606.8" stroke="#eb4e3f" stroke-width="1"/><rect x="87.0" y="596.1" width="3" height="5.6" fill="#eb4e3f"/>
<path d="M94.5 595.2V597M94.5 601V603.8" stroke="#0d47a1" stroke-width="1"/><rect x="93.5" y="597.5" width="2" height="3" fill="none" stroke="#0d47a1" stroke-width="1"/>
<path d="M101.5 582.1V586M101.5 593V593.9" stroke="#0d47a1" stroke-width="1"/><rect x="100.5" y="586.5" width="2" height="6" fill="none" stroke="#0d47a1" stroke-width="1"/>
<path d="M107.5 582.1V599.7" stroke="#eb4e3f" stroke-width="1"/><rect x="106.0" y="585.3" width="3" height="7.2" fill="#eb4e3f"/>
<path d="M114.5 582.1V588M114.5 592V594.9" stroke="#0d47a1" stroke-width="1"/><rect x="113.5" y="588.5" width="2" height="3" fill="none" stroke="#0d47a1" stroke-width="1"/>
<path d="M120.5 581V582M120.5 586V587.8" stroke="#0d47a1" stroke-width="1"/><rect x="119.5" y="582.5" width="2" height="3" fill="none" stroke="#0d47a1" stroke-width="1"/>
<path d="M127.5 581V593.9" stroke="#eb4e3f" stroke-width="1"/><rect x="126.0" y="581" width="3" height="6.5" fill="#eb4e3f"/>
<path d="M133.5 568.2V572" stroke="#0d47a1" stroke-width="1"/><rect x="132.5" y="572.5" width="2" height="14" fill="none" stroke="#0d47a1" stroke-width="1"/>
<path d="M139.5 553.1V558" stroke="#0d47a1" stroke-width="1"/><rect x="138.5" y="558.5" width="2" height="12" fill="none" stroke="#0d47a1" stroke-width="1"/>
<path d="M146.5 554V569.8" stroke="#eb4e3f" stroke-width="1"/><rect x="145.0" y="557" width="3" height="9.6" fill="#eb4e3f"/>
<path d="M152.5 548V555M152.5 564V565" stroke="#0d47a1" stroke-width="1"/><rect x="151.5" y="555.5" width="2" height="8" fill="none" stroke="#0d47a1" stroke-width="1"/>
<path d="M159.5 555.9V573.9" stroke="#eb4e3f" stroke-width="1"/><rect x="158.0" y="559.1" width="3" height="3.8" fill="#eb4e3f"/>
<path d="M165.5 555.1V569.8M164.0 559.4H167.0" stroke="#0d47a1" stroke-width="1" fill="none"/>
<path d="M172.5 544.2V546M172.5 553V556.8" stroke="#0d47a1" stroke-width="1"/><rect x="171.5" y="546.5" width="2" height="6" fill="none" stroke="#0d47a1" stroke-width="1"/>
<path d="M178.5 539.1V541M178.5 545V547.6" stroke="#0d47a1" stroke-width="1"/><rect x="177.5" y="541.5" width="2" height="3" fill="none" stroke="#0d47a1" stroke-width="1"/>
<path d="M185.5 538V560.9M184.0 543.3H187.0" stroke="#eb4e3f" stroke-width="1" fill="none"/>
<path d="M191.5 542V547.6" stroke="#0d47a1" stroke-width="1"/><rect x="190.5" y="531.5" width="2" height="10" fill="none" stroke="#0d47a1" stroke-width="1"/>
<path d="M198.5 528.2V538.6" stroke="#eb4e3f" stroke-width="1"/><rect x="197.0" y="532.2" width="3" height="6.4" fill="#eb4e3f"/>
<path d="M204.5 529.2V542.9" stroke="#0d47a1" stroke-width="1"/><rect x="203.0" y="533" width="3" height="3" fill="#0d47a1"/>
<path d="M211.5 536V559.8" stroke="#eb4e3f" stroke-width="1"/><rect x="210.0" y="536" width="3" height="12.7" fill="#eb4e3f"/>
<path d="M217.5 537V556.8M216.0 547.4H219.0" stroke="#0d47a1" stroke-width="1" fill="none"/>
<path d="M223.5 518.1V533" stroke="#0d47a1" stroke-width="1"/><rect x="222.5" y="533.5" width="2" height="3" fill="none" stroke="#0d47a1" stroke-width="1"/>
<path d="M230.5 528V530M230.5 535V539.9" stroke="#0d47a1" stroke-width="1"/><rect x="229.5" y="530.5" width="2" height="4" fill="none" stroke="#0d47a1" stroke-width="1"/>
<path d="M236.5 520.2V533.7" stroke="#0d47a1" stroke-width="1"/><rect x="235.0" y="527.1" width="3" height="2.8" fill="#0d47a1"/>
<path d="M243.5 532V540.9M242.0 535.3H245.0" stroke="#eb4e3f" stroke-width="1" fill="none"/>
<path d="M249.5 528V539.7" stroke="#eb4e3f" stroke-width="1"/><rect x="248.0" y="528" width="3" height="7.7" fill="#eb4e3f"/>
<path d="M256.5 533V546.8" stroke="#eb4e3f" stroke-width="1"/><rect x="255.0" y="534" width="3" height="7.8" fill="#eb4e3f"/>
<path d="M262.5 532V537M262.5 541V543.7" stroke="#0d47a1" stroke-width="1"/><rect x="261.5" y="537.5" width="2" height="3" fill="none" stroke="#0d47a1" stroke-width="1"/>
<path d="M269.5 538V542.9" stroke="#0d47a1" stroke-width="1"/><rect x="268.5" y="531.5" width="2" height="6" fill="none" stroke="#0d47a1" stroke-width="1"/>
<path d="M275.5 530V535.7" stroke="#0d47a1" stroke-width="1"/><rect x="274.5" y="526.5" width="2" height="3" fill="none" stroke="#0d47a1" stroke-width="1"/>
<path d="M282.5 521.9V523M282.5 531V539.9" stroke="#0d47a1" stroke-width="1"/><rect x="281.5" y="523.5" width="2" height="7" fill="none" stroke="#0d47a1" stroke-width="1"/>
<path d="M288.5 523V535.7" stroke="#eb4e3f" stroke-width="1"/><rect x="287.0" y="523" width="3" height="8.7" fill="#eb4e3f"/>
<path d="M295.5 521.1V522M295.5 526V538.8" stroke="#0d47a1" stroke-width="1"/><rect x="294.5" y="522.5" width="2" height="3" fill="none" stroke="#0d47a1" stroke-width="1"/>
<path d="M301.5 513V531.9" stroke="#eb4e3f" stroke-width="1"/><rect x="300.0" y="523" width="3" height="2" fill="#eb4e3f"/>
<path d="M307.5 502.9V506M307.5 517V519.9" stroke="#0d47a1" stroke-width="1"/><rect x="306.5" y="506.5" width="2" height="10" fill="none" stroke="#0d47a1" stroke-width="1"/>
<path d="M314.5 492V495" stroke="#0d47a1" stroke-width="1"/><rect x="313.5" y="495.5" width="2" height="30" fill="none" stroke="#0d47a1" stroke-width="1"/>
<path d="M320.5 494V507" stroke="#eb4e3f" stroke-width="1"/><rect x="319.0" y="494.9" width="3" height="8" fill="#eb4e3f"/>
<path d="M327.5 488V490" stroke="#0d47a1" stroke-width="1"/><rect x="326.5" y="490.5" width="2" height="10" fill="none" stroke="#0d47a1" stroke-width="1"/>
<path d="M333.5 482V492.8" stroke="#0d47a1" stroke-width="1"/><rect x="332.0" y="484" width="3" height="1.9" fill="#0d47a1"/>
<path d="M340.5 478V498" stroke="#eb4e3f" stroke-width="1"/><rect x="339.0" y="482.8" width="3" height="12.1" fill="#eb4e3f"/>
<path d="M346.5 487.1V491" stroke="#0d47a1" stroke-width="1"/><rect x="345.5" y="491.5" width="2" height="6" fill="none" stroke="#0d47a1" stroke-width="1"/>
<path d="M353.5 486V499.7" stroke="#eb4e3f" stroke-width="1"/><rect x="352.0" y="487.1" width="3" height="12.6" fill="#eb4e3f"/>
<path d="M359.5 471V479" stroke="#0d47a1" stroke-width="1"/><rect x="358.5" y="479.5" width="2" height="31" fill="none" stroke="#0d47a1" stroke-width="1"/>
<path d="M366.5 470V480.5" stroke="#eb4e3f" stroke-width="1"/><rect x="365.0" y="479" width="3" height="1.5" fill="#eb4e3f"/>
<path d="M372.5 474.1V479" stroke="#eb4e3f" stroke-width="1"/><rect x="371.5" y="479.5" width="2" height="11" fill="none" stroke="#eb4e3f" stroke-width="1"/>
<path d="M378.5 485V486M378.5 513V537.6" stroke="#eb4e3f" stroke-width="1"/><rect x="377.5" y="486.5" width="2" height="26" fill="none" stroke="#eb4e3f" stroke-width="1"/>
<path d="M385.5 471V515.5" stroke="#eb4e3f" stroke-width="1"/><rect x="384.0" y="478.2" width="3" height="37.3" fill="#eb4e3f"/>
<path d="M391.5 510.1V533.9" stroke="#eb4e3f" stroke-width="1"/><rect x="390.0" y="513.3" width="3" height="7.3" fill="#eb4e3f"/>
<path d="M398.5 509V519.6" stroke="#0d47a1" stroke-width="1"/><rect x="397.0" y="515.5" width="3" height="4.1" fill="#0d47a1"/>
<path d="M404.5 515.1V523.3" stroke="#eb4e3f" stroke-width="1"/><rect x="403.0" y="520" width="3" height="2.6" fill="#eb4e3f"/>
<path d="M411.5 521.1V571.5" stroke="#eb4e3f" stroke-width="1"/><rect x="410.0" y="522.1" width="3" height="7.3" fill="#eb4e3f"/>
<path d="M417.5 512.8V529M417.5 534V536.6" stroke="#eb4e3f" stroke-width="1"/><rect x="416.5" y="529.5" width="2" height="4" fill="none" stroke="#eb4e3f" stroke-width="1"/>
<path d="M424.5 519.1V534.6" stroke="#eb4e3f" stroke-width="1"/><rect x="423.0" y="526.4" width="3" height="8.2" fill="#eb4e3f"/>
<path d="M430.5 513.1V520M430.5 534V534.6" stroke="#0d47a1" stroke-width="1"/><rect x="429.5" y="520.5" width="2" height="13" fill="none" stroke="#0d47a1" stroke-width="1"/>
<path d="M437.5 508V510M437.5 524V526.4" stroke="#0d47a1" stroke-width="1"/><rect x="436.5" y="510.5" width="2" height="13" fill="none" stroke="#0d47a1" stroke-width="1"/>
<path d="M443.5 478.9V515.8" stroke="#0d47a1" stroke-width="1"/><rect x="442.0" y="478.9" width="3" height="20.7" fill="#0d47a1"/>
<path d="M450.5 487.2V502.7M449.0 493.2H452.0" stroke="#0d47a1" stroke-width="1" fill="none"/>
<path d="M456.5 467.9V477M456.5 487V487.5" stroke="#0d47a1" stroke-width="1"/><rect x="455.5" y="477.5" width="2" height="9" fill="none" stroke="#0d47a1" stroke-width="1"/>
<path d="M462.5 468.8V476.7" stroke="#0d47a1" stroke-width="1"/><rect x="461.0" y="470.6" width="3" height="3.4" fill="#0d47a1"/>
<path d="M469.5 467V471M469.5 475V478.5" stroke="#0d47a1" stroke-width="1"/><rect x="468.5" y="471.5" width="2" height="3" fill="none" stroke="#0d47a1" stroke-width="1"/>
<path d="M475.5 464V471.9" stroke="#0d47a1" stroke-width="1"/><rect x="474.0" y="468.8" width="3" height="2.2" fill="#0d47a1"/>
<path d="M482.5 467V485.7" stroke="#eb4e3f" stroke-width="1"/><rect x="481.0" y="471.4" width="3" height="14.3" fill="#eb4e3f"/>
<path d="M488.5 481.9V503.8" stroke="#eb4e3f" stroke-width="1"/><rect x="487.0" y="488.4" width="3" height="4.1" fill="#eb4e3f"/>
<path d="M495.5 443.1V451" stroke="#0d47a1" stroke-width="1"/><rect x="494.5" y="451.5" width="2" height="22" fill="none" stroke="#0d47a1" stroke-width="1"/>
<path d="M501.5 447.1V452M501.5 456V462.9" stroke="#eb4e3f" stroke-width="1"/><rect x="500.5" y="452.5" width="2" height="3" fill="none" stroke="#eb4e3f" stroke-width="1"/>
<path d="M508.5 446.2V461.9" stroke="#eb4e3f" stroke-width="1"/><rect x="507.0" y="449.2" width="3" height="5.3" fill="#eb4e3f"/>
<path d="M514.5 436.1V438M514.5 451V452.7" stroke="#0d47a1" stroke-width="1"/><rect x="513.5" y="438.5" width="2" height="12" fill="none" stroke="#0d47a1" stroke-width="1"/>
<path d="M521.5 433V466.8" stroke="#eb4e3f" stroke-width="1"/><rect x="520.0" y="435" width="3" height="21.6" fill="#eb4e3f"/>
<path d="M527.5 452.1V479.8" stroke="#eb4e3f" stroke-width="1"/><rect x="526.0" y="452.1" width="3" height="13.5" fill="#eb4e3f"/>
<path d="M534.5 451.1V453M534.5 462V465.8" stroke="#0d47a1" stroke-width="1"/><rect x="533.5" y="453.5" width="2" height="8" fill="none" stroke="#0d47a1" stroke-width="1"/>
<path d="M540.5 444V446M540.5 450V454.9" stroke="#0d47a1" stroke-width="1"/><rect x="539.5" y="446.5" width="2" height="3" fill="none" stroke="#0d47a1" stroke-width="1"/>
<path d="M546.5 440.2V447M546.5 451V456.8" stroke="#eb4e3f" stroke-width="1"/><rect x="545.5" y="447.5" width="2" height="3" fill="none" stroke="#eb4e3f" stroke-width="1"/>
<path d="M553.5 440.2V452.9" stroke="#eb4e3f" stroke-width="1"/><rect x="552.0" y="445.1" width="3" height="6.6" fill="#eb4e3f"/>
<path d="M559.5 446.2V451M559.5 457V459.9" stroke="#0d47a1" stroke-width="1"/><rect x="558.5" y="451.5" width="2" height="5" fill="none" stroke="#0d47a1" stroke-width="1"/>
<path d="M566.5 440.2V446M566.5 454V454.9" stroke="#0d47a1" stroke-width="1"/><rect x="565.5" y="446.5" width="2" height="7" fill="none" stroke="#0d47a1" stroke-width="1"/>
<path d="M572.5 443V449" stroke="#eb4e3f" stroke-width="1"/><rect x="571.5" y="449.5" width="2" height="9" fill="none" stroke="#eb4e3f" stroke-width="1"/>
<path d="M579.5 446.2V455.8" stroke="#eb4e3f" stroke-width="1"/><rect x="578.0" y="452.5" width="3" height="3.3" fill="#eb4e3f"/>
<path d="M585.5 448.2V472.7" stroke="#eb4e3f" stroke-width="1"/><rect x="584.0" y="453.3" width="3" height="18.5" fill="#eb4e3f"/>
<path d="M592.5 450.2V453M592.5 467V470.8" stroke="#0d47a1" stroke-width="1"/><rect x="591.5" y="453.5" width="2" height="13" fill="none" stroke="#0d47a1" stroke-width="1"/>
<path d="M598.5 444V448M598.5 452V453.7" stroke="#0d47a1" stroke-width="1"/><rect x="597.5" y="448.5" width="2" height="3" fill="none" stroke="#0d47a1" stroke-width="1"/>
<path d="M605.5 440.2V451.7" stroke="#eb4e3f" stroke-width="1"/><rect x="604.0" y="447.3" width="3" height="4.4" fill="#eb4e3f"/>
<path d="M611.5 444V454.7" stroke="#eb4e3f" stroke-width="1"/><rect x="610.0" y="450.4" width="3" height="4.3" fill="#eb4e3f"/>
<path d="M617.5 437.1V461.9" stroke="#0d47a1" stroke-width="1"/><rect x="616.0" y="450.3" width="3" height="1.4" fill="#0d47a1"/>
<path d="M624.5 446.2V458.8" stroke="#eb4e3f" stroke-width="1"/><rect x="623.0" y="448.2" width="3" height="3.5" fill="#eb4e3f"/>
<path d="M630.5 451.3V479.6" stroke="#eb4e3f" stroke-width="1"/><rect x="629.0" y="454.1" width="3" height="25.5" fill="#eb4e3f"/>
<path d="M637.5 465.2V472M637.5 480V482.9" stroke="#0d47a1" stroke-width="1"/><rect x="636.5" y="472.5" width="2" height="7" fill="none" stroke="#0d47a1" stroke-width="1"/>
<path d="M643.5 460.1V468M643.5 487V488.7" stroke="#0d47a1" stroke-width="1"/><rect x="642.5" y="468.5" width="2" height="18" fill="none" stroke="#0d47a1" stroke-width="1"/>
<path d="M650.5 456V457M650.5 466V474.8" stroke="#0d47a1" stroke-width="1"/><rect x="649.5" y="457.5" width="2" height="8" fill="none" stroke="#0d47a1" stroke-width="1"/>
<path d="" stroke="#0d47a1" stroke-width="1"/><rect x="655.5" y="443.5" width="2" height="16" fill="none" stroke="#0d47a1" stroke-width="1"/>
<path d="M663.5 437.2V439" stroke="#0d47a1" stroke-width="1"/><rect x="662.5" y="439.5" width="2" height="10" fill="none" stroke="#0d47a1" stroke-width="1"/>
<path d="M669.5 438.2V452.8" stroke="#eb4e3f" stroke-width="1"/><rect x="668.0" y="448.1" width="3" height="1.8" fill="#eb4e3f"/>
<path d="M676.5 455.1V466.7" stroke="#eb4e3f" stroke-width="1"/><rect x="675.0" y="458" width="3" height="1.8" fill="#eb4e3f"/>
<path d="M682.5 453.2V466.7" stroke="#eb4e3f" stroke-width="1"/><rect x="681.0" y="457.2" width="3" height="7.8" fill="#eb4e3f"/>
<path d="M689.5 454.2V469.7" stroke="#0d47a1" stroke-width="1"/><rect x="688.0" y="456.2" width="3" height="7.7" fill="#0d47a1"/>
<path d="M695.5 444.3V447M695.5 459V460.8" stroke="#0d47a1" stroke-width="1"/><rect x="694.5" y="447.5" width="2" height="11" fill="none" stroke="#0d47a1" stroke-width="1"/>
<path d="M701.5 448V450.7" stroke="#0d47a1" stroke-width="1"/><rect x="700.5" y="440.5" width="2" height="7" fill="none" stroke="#0d47a1" stroke-width="1"/>
<path d="M708.5 428V432M708.5 436V449.8" stroke="#0d47a1" stroke-width="1"/><rect x="707.5" y="432.5" width="2" height="3" fill="none" stroke="#0d47a1" stroke-width="1"/>
<path d="M714.5 375.3V400.8" stroke="#0d47a1" stroke-width="1"/><rect x="713.0" y="379.3" width="3" height="9.2" fill="#0d47a1"/>
<path d="M721.5 379.3V402.4" stroke="#eb4e3f" stroke-width="1"/><rect x="720.0" y="393.4" width="3" height="7.4" fill="#eb4e3f"/>
<path d="M727.5 397.1V402M727.5 410V414.6" stroke="#eb4e3f" stroke-width="1"/><rect x="726.5" y="402.5" width="2" height="7" fill="none" stroke="#eb4e3f" stroke-width="1"/>
<path d="M734.5 384.2V392M734.5 399V399.5" stroke="#0d47a1" stroke-width="1"/><rect x="733.5" y="392.5" width="2" height="6" fill="none" stroke="#0d47a1" stroke-width="1"/>
<path d="M740.5 372.3V377M740.5 390V393.8" stroke="#0d47a1" stroke-width="1"/><rect x="739.5" y="377.5" width="2" height="12" fill="none" stroke="#0d47a1" stroke-width="1"/>
<path d="M747.5 362.5V363" stroke="#0d47a1" stroke-width="1"/><rect x="746.5" y="363.5" width="2" height="13" fill="none" stroke="#0d47a1" stroke-width="1"/>
<path d="M753.5 353.2V358M753.5 367V367.8" stroke="#0d47a1" stroke-width="1"/><rect x="752.5" y="358.5" width="2" height="8" fill="none" stroke="#0d47a1" stroke-width="1"/>
<path d="M760.5 332.1V334M760.5 339V345.5" stroke="#0d47a1" stroke-width="1"/><rect x="759.5" y="334.5" width="2" height="4" fill="none" stroke="#0d47a1" stroke-width="1"/>
<path d="M766.5 326V341.6" stroke="#eb4e3f" stroke-width="1"/><rect x="765.0" y="333" width="3" height="7.9" fill="#eb4e3f"/>
<path d="M772.5 325V327M772.5 340V345.5" stroke="#0d47a1" stroke-width="1"/><rect x="771.5" y="327.5" width="2" height="12" fill="none" stroke="#0d47a1" stroke-width="1"/>
<path d="M779.5 321.3V323M779.5 330V333.6" stroke="#0d47a1" stroke-width="1"/><rect x="778.5" y="323.5" width="2" height="6" fill="none" stroke="#0d47a1" stroke-width="1"/>
<path d="M785.5 319.4V320M785.5 326V337.6" stroke="#0d47a1" stroke-width="1"/><rect x="784.5" y="320.5" width="2" height="5" fill="none" stroke="#0d47a1" stroke-width="1"/>
<path d="M792.5 313.1V325.7M791.0 320.4H794.0" stroke="#0d47a1" stroke-width="1" fill="none"/>
<path d="M798.5 310.9V318.8M797.0 316.4H800.0" stroke="#0d47a1" stroke-width="1" fill="none"/>
<path d="M805.5 300V313.8" stroke="#0d47a1" stroke-width="1"/><rect x="804.0" y="309.3" width="3" height="3.4" fill="#0d47a1"/>
<path d="M811.5 306V319.7" stroke="#eb4e3f" stroke-width="1"/><rect x="810.0" y="311.2" width="3" height="8.5" fill="#eb4e3f"/>
<path d="M818.5 304.1V311M818.5 334V335.7" stroke="#0d47a1" stroke-width="1"/><rect x="817.5" y="311.5" width="2" height="22" fill="none" stroke="#0d47a1" stroke-width="1"/>
<path d="M824.5 302.1V313.8" stroke="#0d47a1" stroke-width="1"/><rect x="823.0" y="306" width="3" height="2" fill="#0d47a1"/>
<path d="M831.5 271.1V292M831.5 310V317.8" stroke="#0d47a1" stroke-width="1"/><rect x="830.5" y="292.5" width="2" height="17" fill="none" stroke="#0d47a1" stroke-width="1"/>
<path d="M837.5 283.2V294.8" stroke="#0d47a1" stroke-width="1"/><rect x="836.0" y="284.2" width="3" height="8.7" fill="#0d47a1"/>
<path d="M844.5 283.2V289M844.5 296V298.7" stroke="#0d47a1" stroke-width="1"/><rect x="843.5" y="289.5" width="2" height="6" fill="none" stroke="#0d47a1" stroke-width="1"/>
<path d="M850.5 279V280M850.5 284V288.8" stroke="#0d47a1" stroke-width="1"/><rect x="849.5" y="280.5" width="2" height="3" fill="none" stroke="#0d47a1" stroke-width="1"/>
<path d="M856.5 280.1V288.8M855.0 282.5H858.0" stroke="#eb4e3f" stroke-width="1" fill="none"/>
<path d="M863.5 280.1V284M863.5 290V293.7" stroke="#eb4e3f" stroke-width="1"/><rect x="862.5" y="284.5" width="2" height="5" fill="none" stroke="#eb4e3f" stroke-width="1"/>
<path d="M869.5 279V280M869.5 284V292.9" stroke="#0d47a1" stroke-width="1"/><rect x="868.5" y="280.5" width="2" height="3" fill="none" stroke="#0d47a1" stroke-width="1"/>
<path d="M876.5 275.1V283.8" stroke="#eb4e3f" stroke-width="1"/><rect x="875.0" y="279.2" width="3" height="2.8" fill="#eb4e3f"/>
<path d="M882.5 285.1V288M882.5 300V312.7" stroke="#eb4e3f" stroke-width="1"/><rect x="881.5" y="288.5" width="2" height="11" fill="none" stroke="#eb4e3f" stroke-width="1"/>
<path d="M889.5 289V293.7" stroke="#0d47a1" stroke-width="1"/><rect x="888.5" y="285.5" width="2" height="3" fill="none" stroke="#0d47a1" stroke-width="1"/>
<path d="M895.5 287V298.8" stroke="#eb4e3f" stroke-width="1"/><rect x="894.0" y="287.8" width="3" height="2" fill="#eb4e3f"/>
<path d="M902.5 285.3V301.7M901.0 297.5H904.0" stroke="#eb4e3f" stroke-width="1" fill="none"/>
<path d="M908.5 292.1V298M908.5 302V302.5" stroke="#eb4e3f" stroke-width="1"/><rect x="907.5" y="298.5" width="2" height="3" fill="none" stroke="#eb4e3f" stroke-width="1"/>
<path d="M915.5 297.2V375" stroke="#eb4e3f" stroke-width="1"/><rect x="914.0" y="299" width="3" height="37.8" fill="#eb4e3f"/>
<path d="M921.5 314.3V327M921.5 341V344.8" stroke="#0d47a1" stroke-width="1"/><rect x="920.5" y="327.5" width="2" height="13" fill="none" stroke="#0d47a1" stroke-width="1"/>
<path d="M928.5 302V337.9" stroke="#eb4e3f" stroke-width="1"/><rect x="927.0" y="326.2" width="3" height="8.7" fill="#eb4e3f"/>
<path d="M934.5 301.3V304M934.5 331V332.6" stroke="#0d47a1" stroke-width="1"/><rect x="933.5" y="304.5" width="2" height="26" fill="none" stroke="#0d47a1" stroke-width="1"/>
<path d="M940.5 286V303.9M939.0 293.7H942.0" stroke="#0d47a1" stroke-width="1" fill="none"/>
<path d="M947.5 289.8V317" stroke="#eb4e3f" stroke-width="1"/><rect x="946.0" y="295.2" width="3" height="11.7" fill="#eb4e3f"/>
<path d="M953.5 289.8V295M953.5 308V310.4" stroke="#0d47a1" stroke-width="1"/><rect x="952.5" y="295.5" width="2" height="12" fill="none" stroke="#0d47a1" stroke-width="1"/>
<path d="M960.5 306.9V337.9" stroke="#eb4e3f" stroke-width="1"/><rect x="959.0" y="314.3" width="3" height="21.6" fill="#eb4e3f"/>
<path d="M966.5 337.1V375.6" stroke="#eb4e3f" stroke-width="1"/><rect x="965.0" y="337.1" width="3" height="16.5" fill="#eb4e3f"/>
<path d="M973.5 368.4V416.8" stroke="#eb4e3f" stroke-width="1"/><rect x="972.0" y="369.2" width="3" height="39.7" fill="#eb4e3f"/>
<path d="M979.5 384.1V393M979.5 410V410.7" stroke="#0d47a1" stroke-width="1"/><rect x="978.5" y="393.5" width="2" height="16" fill="none" stroke="#0d47a1" stroke-width="1"/>
<path d="M986.5 359.3V386.7" stroke="#0d47a1" stroke-width="1"/><rect x="985.0" y="365.4" width="3" height="18.3" fill="#0d47a1"/>
<path d="M992.5 380.2V399.7" stroke="#eb4e3f" stroke-width="1"/><rect x="991.0" y="382.2" width="3" height="12.6" fill="#eb4e3f"/>
<path d="M999.5 372.2V374M999.5 389V391.8" stroke="#0d47a1" stroke-width="1"/><rect x="998.5" y="374.5" width="2" height="14" fill="none" stroke="#0d47a1" stroke-width="1"/>
<path d="M1005.5 350.3V355M1005.5 380V380.7" stroke="#0d47a1" stroke-width="1"/><rect x="1004.5" y="355.5" width="2" height="24" fill="none" stroke="#0d47a1" stroke-width="1"/>
<path d="M1011.5 350.3V352M1011.5 361V365.7" stroke="#0d47a1" stroke-width="1"/><rect x="1010.5" y="352.5" width="2" height="8" fill="none" stroke="#0d47a1" stroke-width="1"/>
<path d="M1018.5 328V336M1018.5 349V354.8" stroke="#0d47a1" stroke-width="1"/><rect x="1017.5" y="336.5" width="2" height="12" fill="none" stroke="#0d47a1" stroke-width="1"/>
<path d="M1024.5 323V328M1024.5 340V342.9" stroke="#0d47a1" stroke-width="1"/><rect x="1023.5" y="328.5" width="2" height="11" fill="none" stroke="#0d47a1" stroke-width="1"/>
<path d="M1031.5 333.2V350.7" stroke="#eb4e3f" stroke-width="1"/><rect x="1030.0" y="333.9" width="3" height="2.6" fill="#eb4e3f"/>
<path d="M1037.5 313.1V316M1037.5 325V330.6" stroke="#0d47a1" stroke-width="1"/><rect x="1036.5" y="316.5" width="2" height="8" fill="none" stroke="#0d47a1" stroke-width="1"/>
<path d="M1044.5 299V311M1044.5 315V316" stroke="#0d47a1" stroke-width="1"/><rect x="1043.5" y="311.5" width="2" height="3" fill="none" stroke="#0d47a1" stroke-width="1"/>
<path d="M1050.5 307V332.7" stroke="#eb4e3f" stroke-width="1"/><rect x="1049.0" y="312.1" width="3" height="7.4" fill="#eb4e3f"/>
<path d="M1057.5 320.1V340.9" stroke="#eb4e3f" stroke-width="1"/><rect x="1056.0" y="321.3" width="3" height="14.2" fill="#eb4e3f"/>
<path d="M1063.5 340.2V364.8" stroke="#eb4e3f" stroke-width="1"/><rect x="1062.0" y="340.2" width="3" height="11.5" fill="#eb4e3f"/>
<path d="M1070.5 331.2V335M1070.5 365V366.7" stroke="#0d47a1" stroke-width="1"/><rect x="1069.5" y="335.5" width="2" height="29" fill="none" stroke="#0d47a1" stroke-width="1"/>
<path d="M1076.5 340V348.8" stroke="#0d47a1" stroke-width="1"/><rect x="1075.5" y="330.5" width="2" height="9" fill="none" stroke="#0d47a1" stroke-width="1"/>
<path d="M1083.5 333V343M1083.5 347V359.9" stroke="#eb4e3f" stroke-width="1"/><rect x="1082.5" y="343.5" width="2" height="3" fill="none" stroke="#eb4e3f" stroke-width="1"/>
<path d="M1089.5 345.2V360M1089.5 378V379.5" stroke="#eb4e3f" stroke-width="1"/><rect x="1088.5" y="360.5" width="2" height="17" fill="none" stroke="#eb4e3f" stroke-width="1"/>
<path d="M1095.5 388V459.6" stroke="#eb4e3f" stroke-width="1"/><rect x="1094.0" y="401.3" width="3" height="58.3" fill="#eb4e3f"/>
<path d="M1102.5 411.3V437M1102.5 499V503.4" stroke="#0d47a1" stroke-width="1"/><rect x="1101.5" y="437.5" width="2" height="61" fill="none" stroke="#0d47a1" stroke-width="1"/>
<path d="M1108.5 398.1V466.5" stroke="#eb4e3f" stroke-width="1"/><rect x="1107.0" y="405.4" width="3" height="43.1" fill="#eb4e3f"/>
<path d="M1115.5 369.1V378M1115.5 453V493.9" stroke="#0d47a1" stroke-width="1"/><rect x="1114.5" y="378.5" width="2" height="74" fill="none" stroke="#0d47a1" stroke-width="1"/>
<path d="M1121.5 392.2V443.8" stroke="#eb4e3f" stroke-width="1"/><rect x="1120.0" y="392.2" width="3" height="34.2" fill="#eb4e3f"/>
<path d="M1128.5 404V414M1128.5 419V433.8" stroke="#0d47a1" stroke-width="1"/><rect x="1127.5" y="414.5" width="2" height="4" fill="none" stroke="#0d47a1" stroke-width="1"/>
<path d="M1134.5 391.3V412.8" stroke="#0d47a1" stroke-width="1"/><rect x="1133.0" y="395.1" width="3" height="11.8" fill="#0d47a1"/>
<path d="M1141.5 397.2V412.8" stroke="#eb4e3f" stroke-width="1"/><rect x="1140.0" y="401.3" width="3" height="6.2" fill="#eb4e3f"/>
<path d="M1147.5 379.2V397M1147.5 402V408.7" stroke="#0d47a1" stroke-width="1"/><rect x="1146.5" y="397.5" width="2" height="4" fill="none" stroke="#0d47a1" stroke-width="1"/>
<path d="M1154.5 386.3V401.7" stroke="#eb4e3f" stroke-width="1"/><rect x="1153.0" y="392.2" width="3" height="5.4" fill="#eb4e3f"/>
<path d="M1160.5 396.1V423.7" stroke="#eb4e3f" stroke-width="1"/><rect x="1159.0" y="397.2" width="3" height="18.1" fill="#eb4e3f"/>
<path d="M1167.5 391.3V398M1167.5 410V416.8" stroke="#0d47a1" stroke-width="1"/><rect x="1166.5" y="398.5" width="2" height="11" fill="none" stroke="#0d47a1" stroke-width="1"/>
<path d="M1173.5 319.3V360.8" stroke="#0d47a1" stroke-width="1"/><rect x="1172.0" y="344.2" width="3" height="12.3" fill="#0d47a1"/>
<path d="M1179.5 326.1V332M1179.5 353V354.9" stroke="#0d47a1" stroke-width="1"/><rect x="1178.5" y="332.5" width="2" height="20" fill="none" stroke="#0d47a1" stroke-width="1"/>
<path d="M1186.5 321.2V324M1186.5 329V334.8" stroke="#0d47a1" stroke-width="1"/><rect x="1185.5" y="324.5" width="2" height="4" fill="none" stroke="#0d47a1" stroke-width="1"/>
<path d="M1192.5 313.3V327.8" stroke="#0d47a1" stroke-width="1"/><rect x="1191.0" y="317.2" width="3" height="4.5" fill="#0d47a1"/>
<path d="M1199.5 310.6V326.8" stroke="#0d47a1" stroke-width="1"/><rect x="1198.0" y="314.9" width="3" height="2" fill="#0d47a1"/>
<path d="M1205.5 311.4V314M1205.5 318V327.8" stroke="#0d47a1" stroke-width="1"/><rect x="1204.5" y="314.5" width="2" height="3" fill="none" stroke="#0d47a1" stroke-width="1"/>
<path d="M1212.5 304V310M1212.5 315V327.8" stroke="#0d47a1" stroke-width="1"/><rect x="1211.5" y="310.5" width="2" height="4" fill="none" stroke="#0d47a1" stroke-width="1"/>
<path d="M1218.5 286.2V298.8" stroke="#0d47a1" stroke-width="1"/><rect x="1217.0" y="292" width="3" height="1.7" fill="#0d47a1"/>
<path d="M1225.5 294.2V306.7" stroke="#eb4e3f" stroke-width="1"/><rect x="1224.0" y="296.3" width="3" height="4.4" fill="#eb4e3f"/>
<path d="M1231.5 297.4V301M1231.5 308V310.6" stroke="#eb4e3f" stroke-width="1"/><rect x="1230.5" y="301.5" width="2" height="6" fill="none" stroke="#eb4e3f" stroke-width="1"/>
<path d="M1238.5 291.1V294M1238.5 303V303.8" stroke="#0d47a1" stroke-width="1"/><rect x="1237.5" y="294.5" width="2" height="8" fill="none" stroke="#0d47a1" stroke-width="1"/>
<path d="M1244.5 284.3V310.6" stroke="#eb4e3f" stroke-width="1"/><rect x="1243.0" y="290.3" width="3" height="20.3" fill="#eb4e3f"/>
<path d="M1250.5 306.2V316.9" stroke="#eb4e3f" stroke-width="1"/><rect x="1249.0" y="310.4" width="3" height="3.6" fill="#eb4e3f"/>
<path d="M1257.5 298.2V324.9" stroke="#eb4e3f" stroke-width="1"/><rect x="1256.0" y="299" width="3" height="15.7" fill="#eb4e3f"/>
<path d="M1263.5 305.3V319.8" stroke="#0d47a1" stroke-width="1"/><rect x="1262.0" y="311.1" width="3" height="2.6" fill="#0d47a1"/>
<path d="M1270.5 307.2V313" stroke="#eb4e3f" stroke-width="1"/><rect x="1269.5" y="313.5" width="2" height="3" fill="none" stroke="#eb4e3f" stroke-width="1"/>
<path d="M1276.5 291.1V293M1276.5 310V314.7" stroke="#0d47a1" stroke-width="1"/><rect x="1275.5" y="293.5" width="2" height="16" fill="none" stroke="#0d47a1" stroke-width="1"/>
<path d="M1283.5 279.1V281M1283.5 285V294.7" stroke="#0d47a1" stroke-width="1"/><rect x="1282.5" y="281.5" width="2" height="3" fill="none" stroke="#0d47a1" stroke-width="1"/>
<path d="M1289.5 286V286.8" stroke="#0d47a1" stroke-width="1"/><rect x="1288.5" y="275.5" width="2" height="10" fill="none" stroke="#0d47a1" stroke-width="1"/>
<path d="M1296.5 275V276M1296.5 280V288.6" stroke="#eb4e3f" stroke-width="1"/><rect x="1295.5" y="276.5" width="2" height="3" fill="none" stroke="#eb4e3f" stroke-width="1"/>
<path d="M1302.5 271V297.7" stroke="#eb4e3f" stroke-width="1"/><rect x="1301.0" y="279.4" width="3" height="16.9" fill="#eb4e3f"/>
<path d="M1309.5 292.2V297M1309.5 301V305.7" stroke="#eb4e3f" stroke-width="1"/><rect x="1308.5" y="297.5" width="2" height="3" fill="none" stroke="#eb4e3f" stroke-width="1"/>
<path d="M1315.5 293.3V297M1315.5 304V305.7" stroke="#eb4e3f" stroke-width="1"/><rect x="1314.5" y="297.5" width="2" height="6" fill="none" stroke="#eb4e3f" stroke-width="1"/>
<path d="M1322.5 275.2V281" stroke="#0d47a1" stroke-width="1"/><rect x="1321.5" y="281.5" width="2" height="9" fill="none" stroke="#0d47a1" stroke-width="1"/>
<path d="M1328.5 285.1V297M1328.5 306V306.5" stroke="#eb4e3f" stroke-width="1"/><rect x="1327.5" y="297.5" width="2" height="8" fill="none" stroke="#eb4e3f" stroke-width="1"/>
<path d="M1334.5 292.2V302.7" stroke="#eb4e3f" stroke-width="1"/><rect x="1333.0" y="295.8" width="3" height="2.2" fill="#eb4e3f"/>
<path d="M1341.5 288.1V290M1341.5 298V300.7" stroke="#0d47a1" stroke-width="1"/><rect x="1340.5" y="290.5" width="2" height="7" fill="none" stroke="#0d47a1" stroke-width="1"/>
<path d="M1347.5 289.2V313.6" stroke="#eb4e3f" stroke-width="1"/><rect x="1346.0" y="294.4" width="3" height="6.1" fill="#eb4e3f"/>
<path d="M1354.5 302.1V318.6" stroke="#eb4e3f" stroke-width="1"/><rect x="1353.0" y="304.3" width="3" height="8.2" fill="#eb4e3f"/>
<path d="M1360.5 307V318.6" stroke="#eb4e3f" stroke-width="1"/><rect x="1359.0" y="310.9" width="3" height="7.7" fill="#eb4e3f"/>
<path d="M1367.5 310.3V320.8" stroke="#0d47a1" stroke-width="1"/><rect x="1366.0" y="312.8" width="3" height="2.2" fill="#0d47a1"/>
<path d="M1373.5 284V334" stroke="#eb4e3f" stroke-width="1"/><rect x="1372.0" y="312" width="3" height="10.4" fill="#eb4e3f"/>
<path d="M1380.5 327.9V347.7" stroke="#eb4e3f" stroke-width="1"/><rect x="1379.0" y="327.9" width="3" height="15.6" fill="#eb4e3f"/>
<path d="M1386.5 339.1V354.8" stroke="#eb4e3f" stroke-width="1"/><rect x="1385.0" y="342.2" width="3" height="9.9" fill="#eb4e3f"/>
<path d="M1393.5 343.1V356.7" stroke="#0d47a1" stroke-width="1"/><rect x="1392.0" y="349.9" width="3" height="2" fill="#0d47a1"/>
<path d="M1399.5 348.2V364.7" stroke="#eb4e3f" stroke-width="1"/><rect x="1398.0" y="349.3" width="3" height="10.3" fill="#eb4e3f"/>
<path d="M1405.5 335.1V346M1405.5 364V364.7" stroke="#0d47a1" stroke-width="1"/><rect x="1404.5" y="346.5" width="2" height="17" fill="none" stroke="#0d47a1" stroke-width="1"/>
<path d="M1412.5 319.1V328M1412.5 339V339.8" stroke="#0d47a1" stroke-width="1"/><rect x="1411.5" y="328.5" width="2" height="10" fill="none" stroke="#0d47a1" stroke-width="1"/>
<path d="M1418.5 318.1V326" stroke="#0d47a1" stroke-width="1"/><rect x="1417.5" y="326.5" width="2" height="4" fill="none" stroke="#0d47a1" stroke-width="1"/>
<path d="M1425.5 320.3V334.8" stroke="#eb4e3f" stroke-width="1"/><rect x="1424.0" y="326.2" width="3" height="3.4" fill="#eb4e3f"/>
<path d="M1431.5 320.3V330.6" stroke="#eb4e3f" stroke-width="1"/><rect x="1430.0" y="327.2" width="3" height="3.4" fill="#eb4e3f"/>
<path d="M1438.5 327V333.8" stroke="#0d47a1" stroke-width="1"/><rect x="1437.5" y="319.5" width="2" height="7" fill="none" stroke="#0d47a1" stroke-width="1"/>
<path d="M1444.5 299.2V301M1444.5 317V321.8" stroke="#0d47a1" stroke-width="1"/><rect x="1443.5" y="301.5" width="2" height="15" fill="none" stroke="#0d47a1" stroke-width="1"/>
<path d="M1451.5 291.1V298" stroke="#0d47a1" stroke-width="1"/><rect x="1450.5" y="298.5" width="2" height="3" fill="none" stroke="#0d47a1" stroke-width="1"/>
<path d="M1457.5 290.1V299.8M1456.0 296.5H1459.0" stroke="#0d47a1" stroke-width="1" fill="none"/>
<path d="M1464.5 270.9V276M1464.5 295V295.8" stroke="#0d47a1" stroke-width="1"/><rect x="1463.5" y="276.5" width="2" height="18" fill="none" stroke="#0d47a1" stroke-width="1"/>
<path d="M1470.5 267.1V271M1470.5 277V278.9" stroke="#0d47a1" stroke-width="1"/><rect x="1469.5" y="271.5" width="2" height="5" fill="none" stroke="#0d47a1" stroke-width="1"/>
<path d="M1477.5 267.1V303" stroke="#eb4e3f" stroke-width="1"/><rect x="1476.0" y="270.9" width="3" height="23.6" fill="#eb4e3f"/>
<path d="M1483.5 288.2V315.9" stroke="#eb4e3f" stroke-width="1"/><rect x="1482.0" y="294.1" width="3" height="12.7" fill="#eb4e3f"/>
<path d="M1489.5 297V306.8M1488.0 299.2H1491.0" stroke="#0d47a1" stroke-width="1" fill="none"/>
<path d="M1496.5 295.1V308" stroke="#eb4e3f" stroke-width="1"/><rect x="1495.0" y="295.8" width="3" height="9.3" fill="#eb4e3f"/>
<path d="M1502.5 300V326.8" stroke="#eb4e3f" stroke-width="1"/><rect x="1501.0" y="306.3" width="3" height="12.4" fill="#eb4e3f"/>
<path d="M1509.5 310.1V326.8" stroke="#0d47a1" stroke-width="1"/><rect x="1508.0" y="312.8" width="3" height="2" fill="#0d47a1"/>
<path d="M1515.5 298.1V304M1515.5 312V317.7" stroke="#0d47a1" stroke-width="1"/><rect x="1514.5" y="304.5" width="2" height="7" fill="none" stroke="#0d47a1" stroke-width="1"/>
<path d="M1522.5 301V313.7" stroke="#eb4e3f" stroke-width="1"/><rect x="1521.0" y="301" width="3" height="10" fill="#eb4e3f"/>
</g>
<polyline fill="none" stroke="#ea5043" stroke-width="1.15" stroke-linejoin="round" points="21,630.9 43.6,630.4 62.5,630 91.4,627.3 111.7,625.9 132.1,623.3 152.4,619.8 172.8,615.7 193.1,610 213.5,603.9 233.8,597.8 254.1,593.4 274.5,587.7 288.7,584 305,577.5 325.4,567.3 345.7,556.1 366,546 385.1,538.1 400.2,534.2 415.2,531.2 430.3,528.6 445.3,524.9 460.4,520.3 475.4,516.1 490.5,512.1 505,508.3 535.9,499.7 572,489.8 596.6,484.1 624.5,477.9 636,477.1 651.3,475.6 663.5,473.4 676.4,472.3 689.4,471.5 701.6,470 708.5,468.4 716.9,465 726,461.6 730,459.8 740,455 750,449.9 760,444.7 770,439.9 780,435 790,430.5 800,425.6 810,419.9 820,414.6 834.8,407.4 846,401.6 868.3,389.9 885,381.1 900.3,373.2 915.5,366.4 928.5,361.6 946,353.2 961.3,346.3 966.3,344.8 979.6,342.9 991.8,341 1000,339.4 1011.7,335.3 1023.4,331.6 1035.1,328.3 1046.8,325.4 1058.5,323 1070.2,322 1079.6,321.5 1090.1,322.2 1100,326.2 1130,335.5 1165,345.2 1174.7,348.1 1184.3,350 1194,351.4 1203.7,352.3 1213.3,352.9 1223,352.9 1232.7,352.6 1242.3,351.4 1252,350.7 1261.6,351.7 1271.3,352.2 1281,351.2 1291,348.6 1302,344.2 1313,340.6 1324,337.8 1335,336.2 1346,334.8 1357,334.3 1368,334.5 1379,334.7 1390,335.4 1400.9,336.2 1406.3,335.9 1412.6,334.9 1425.4,329.5 1438.5,327.4 1451.4,322.4 1464.5,317.3 1477.4,312.7 1483.5,310.8 1489.5,309.3 1496.5,308.3 1502.5,308.3 1509.5,308 1515.6,307.6 1523.2,307.6"/>
<path d="M838.1 395.7Q1142.3 612.4 1477.3 391.5" fill="none" stroke="#4a7bb0" stroke-width="2"/>
<rect x="825" y="268" width="1095" height="3" fill="#000"/>
<text x="1835.4" y="262" style="font-size:11px;font-weight:bold" fill="#000" textLength="38.3" lengthAdjust="spacingAndGlyphs">107.31</text>
<path d="M831.5 220V242" stroke="#000" stroke-width="1.3"/><path d="M826.3 241H836.7L831.5 250.8Z" fill="#000"/>
<path d="M1296.5 225.2V247.3" stroke="#000" stroke-width="1.3"/><path d="M1291.3 246.3H1301.7L1296.5 256Z" fill="#000"/>
<path d="M1470.5 215V237" stroke="#000" stroke-width="1.3"/><path d="M1465.3 236H1475.7L1470.5 245.8Z" fill="#000"/>
<text class="ax" x="1924.9" y="89.1" text-anchor="end">126.81</text>
<text class="ax" x="1924.9" y="140.2" text-anchor="end">120.85</text>
<text class="ax" x="1924.9" y="191.3" text-anchor="end">115.18</text>
<text class="ax" x="1924.9" y="242.3" text-anchor="end">109.77</text>
<text class="ax" x="1924.9" y="293.4" text-anchor="end">104.62</text>
<text class="ax" x="1924.9" y="344.5" text-anchor="end">99.71</text>
<text class="ax" x="1924.9" y="395.6" text-anchor="end">95.03</text>
<text class="ax" x="1924.9" y="446.7" text-anchor="end">90.57</text>
<text class="ax" x="1924.9" y="497.7" text-anchor="end">86.31</text>
<text class="ax" x="1924.9" y="548.8" text-anchor="end">82.26</text>
<text class="ax" x="1924.9" y="599.9" text-anchor="end">78.40</text>
<text class="ax" x="1924.9" y="651.0" text-anchor="end">74.72</text>
<text class="ax" x="1924.9" y="702.1" text-anchor="end">71.21</text>
<text class="ax" x="1924.9" y="753.1" text-anchor="end">67.87</text>
<rect x="1880" y="300" width="49" height="19" rx="2.5" fill="#b71c0c"/>
<text x="1924.2" y="313.2" text-anchor="end" style="font-size:11px" fill="#fff">103.18</text>
<rect x="21" y="829" width="1502" height="92" fill="#ecf9fb"/>
<rect x="21" y="829" width="1502" height="1" fill="#e3ebf5"/>
<rect x="21" y="920" width="1502" height="1" fill="#e3ebf5"/>
<rect x="21" y="874.2" width="1502" height="1.2" fill="#d6dbea"/>
<polyline fill="none" stroke="#33b2f2" stroke-width="1.15" stroke-linejoin="round" points="21,898.2 24.23,893.5 30.6892,892.8 37.1484,874.3 43.6076,868.6 50.0668,870.9 56.526,871.5 62.9852,866.2 69.4444,854.8 75.9036,848.7 82.3628,845.1 88.822,848 95.2812,845.1 101.74,838.4 108.2,844.4 114.659,841.3 121.118,838.4 127.577,843.8 134.036,833.4 140.496,824.6 146.955,835.9 153.414,829.5 159.873,838.7 166.332,836.7 172.792,828.2 179.251,825.3 185.71,828.7 192.169,821.3 198.628,831.3 205.088,829.9 211.547,847.4 218.006,847.3 224.465,835.6 230.924,833.4 237.384,832.7 243.843,842.3 250.302,842.7 256.761,852 263.22,848 269.68,842.7 276.139,838.4 282.598,834.2 289.057,848.4 295.516,839.6 301.976,842.7 308.435,827.7 314.894,819.6 321.353,831.3 327.812,823.5 334.272,819.9 340.731,835.9 347.19,833.4 353.649,844.4 360.108,829.5 366.568,829.6 373.027,830.7 379.486,842 385.945,878 392.404,882.3 398.864,881.6 405.323,884.3 411.782,891.4 418.241,891.8 424.7,896.5 431.16,878.3 437.619,866.9 444.078,855.5 450.537,850.1 456.996,836.7 463.456,834.4 469.915,832.4 476.374,832.2 482.833,854.4 489.292,863.8 495.752,832.3 502.211,834.2 508.67,836.3 515.129,827 521.588,847.7 528.048,857.4 534.507,849.5 540.966,845 547.425,845.8 553.884,849.5 560.344,849.2 566.803,845.5 573.262,850.5 579.721,858.8 586.18,876.9 592.64,859.8 599.099,856.7 605.558,858.6 612.017,862.6 618.476,859.1 624.936,859.8 631.395,891.4 637.854,882.9 644.313,878.3 650.772,866.9 657.232,854.8 663.691,851.2 670.15,862.9 676.609,874.3 683.068,878.3 689.528,878.3 695.987,861.9 702.446,855.5 708.905,848.4 715.364,821.6 721.824,835.3 728.283,838.4 734.742,831.6 741.201,824.9 747.66,818.9 754.12,816.3 760.579,807.5 767.038,815.6 773.497,810.7 779.956,808.9 786.416,807.8 792.875,807.8 799.334,806.4 805.793,804.5 812.252,816.1 818.712,812.5 825.171,810.2 831.63,803.5 838.089,803.7 844.548,802.4 851.008,798.5 857.467,802.8 863.926,806 870.385,804.2 876.844,804.7 883.304,821 889.763,819.2 896.222,825.6 902.681,843.4 909.14,844.8 915.6,894.7 922.059,884 928.518,890.4 934.977,861.2 941.436,852.7 947.896,865.5 954.355,857.4 960.814,888.3 967.273,899 973.732,920.3 980.192,909.9 986.651,902.9 993.11,907.5 999.569,894.7 1006.03,882.6 1012.49,880.4 1018.95,871.2 1025.41,866.9 1031.87,872.3 1038.32,860.5 1044.78,858.4 1051.24,864.1 1057.7,875.2 1064.16,884 1070.62,873.7 1077.08,871.2 1083.54,881.2 1090,889.7 1096.46,924.2 1102.92,912.2 1109.38,915 1115.83,882.3 1122.29,896.5 1128.75,891.8 1135.21,888.6 1141.67,889 1148.13,883.7 1154.59,884 1161.05,891.4 1167.51,883.3 1173.97,864.8 1180.43,855.5 1186.89,852.4 1193.35,851.2 1199.8,849.1 1206.26,848.7 1212.72,847.3 1219.18,839.6 1225.64,845.1 1232.1,845.8 1238.56,843 1245.02,855.2 1251.48,858.1 1257.94,858.4 1264.4,857.8 1270.86,858.1 1277.31,844.4 1283.77,838.4 1290.23,834.9 1296.69,835.9 1303.15,856.9 1309.61,858.4 1316.07,858.4 1322.53,846 1328.99,862.6 1335.45,862.9 1341.91,856.9 1348.37,866.9 1354.83,878.3 1361.28,883.7 1367.74,879.7 1374.2,887.1 1380.66,902.2 1387.12,906.8 1393.58,906.4 1400.04,911.9 1406.5,898.2 1412.96,879.4 1419.42,877.2 1425.88,880.4 1432.34,881.2 1438.79,870 1445.25,854.8 1451.71,853.4 1458.17,850.1 1464.63,835.9 1471.09,831 1477.55,859.8 1484.01,870.9 1490.47,865.8 1496.93,869.5 1503.39,882.3 1509.85,877.2 1516.31,869.5 1522.76,875.5"/>
<text class="ax" x="1920.6" y="811.2" text-anchor="end">80.00</text>
<text class="ax" x="1920.6" y="857.1" text-anchor="end">60.00</text>
<text class="ax" x="1920.6" y="903.1" text-anchor="end">40.00</text>
<rect x="21" y="937" width="1899" height="1" fill="#777"/>
<g id="xaxis">
<rect x="48" y="937" width="1" height="9" fill="#777"/>
<text class="axx" x="49.5" y="956">12. Aug</text>
<rect x="113" y="937" width="1" height="9" fill="#777"/>
<text class="axx" x="114.5" y="956">26. Aug</text>
<rect x="171" y="937" width="1" height="9" fill="#777"/>
<text class="axx" x="172.5" y="956">9. Sep</text>
<rect x="236" y="937" width="1" height="9" fill="#777"/>
<text class="axx" x="237.5" y="956">23. Sep</text>
<rect x="300" y="937" width="1" height="9" fill="#777"/>
<text class="axx" x="301.9" y="956">7. Oct</text>
<rect x="365" y="937" width="1" height="9" fill="#777"/>
<text class="axx" x="366.5" y="956">21. Oct</text>
<rect x="430" y="937" width="1" height="9" fill="#777"/>
<text class="axx" x="431.5" y="956">4. Nov</text>
<rect x="494" y="937" width="1" height="9" fill="#777"/>
<text class="axx" x="495.5" y="956">18. Nov</text>
<rect x="552" y="937" width="1" height="9" fill="#777"/>
<text class="axx" x="553.5" y="956">2. Dec</text>
<rect x="617" y="937" width="1" height="9" fill="#777"/>
<text class="axx" x="618.5" y="956">16. Dec</text>
<rect x="675" y="937" width="1" height="9" fill="#777"/>
<text class="axx" x="676.7" y="956">30. Dec</text>
<rect x="727" y="937" width="1" height="9" fill="#777"/>
<text class="axx" x="728.9" y="956">13. Jan</text>
<rect x="785" y="937" width="1" height="9" fill="#777"/>
<text class="axx" x="786.7" y="956">27. Jan</text>
<rect x="849" y="937" width="1" height="9" fill="#777"/>
<text class="axx" x="850.7" y="956">10. Feb</text>
<rect x="908" y="937" width="1" height="9" fill="#777"/>
<text class="axx" x="909.6" y="956">24. Feb</text>
<rect x="972" y="937" width="1" height="9" fill="#777"/>
<text class="axx" x="973.6" y="956">10. Mar</text>
<rect x="1037" y="937" width="1" height="9" fill="#777"/>
<text class="axx" x="1038.6" y="956">24. Mar</text>
<rect x="1101" y="937" width="1" height="9" fill="#777"/>
<text class="axx" x="1102.5" y="956">7. Apr</text>
<rect x="1160" y="937" width="1" height="9" fill="#777"/>
<text class="axx" x="1161.4" y="956">21. Apr</text>
<rect x="1224" y="937" width="1" height="9" fill="#777"/>
<text class="axx" x="1225.7" y="956">5. May</text>
<rect x="1290" y="937" width="1" height="9" fill="#777"/>
<text class="axx" x="1291.1" y="956">19. May</text>
<rect x="1347" y="937" width="1" height="9" fill="#777"/>
<text class="axx" x="1348.5" y="956">2. Jun</text>
<rect x="1411" y="937" width="1" height="9" fill="#777"/>
<text class="axx" x="1412.5" y="956">16. Jun</text>
<rect x="1470" y="937" width="1" height="9" fill="#777"/>
<text class="axx" x="1471.5" y="956">30. Jun</text>
<rect x="1528" y="937" width="1" height="9" fill="#777"/>
<text class="axx" x="1529.5" y="956">14. Jul</text>
<rect x="1592" y="937" width="1" height="9" fill="#777"/>
<text class="axx" x="1593.9" y="956">28. Jul</text>
<rect x="1657" y="937" width="1" height="9" fill="#777"/>
<text class="axx" x="1658.5" y="956">11. Aug</text>
<rect x="1721" y="937" width="1" height="9" fill="#777"/>
<text class="axx" x="1722.5" y="956">25. Aug</text>
<rect x="1780" y="937" width="1" height="9" fill="#777"/>
<text class="axx" x="1781.5" y="956">8. Sep</text>
<rect x="1844" y="937" width="1" height="9" fill="#777"/>
<text class="axx" x="1845.5" y="956">22. Sep</text>
<rect x="1909" y="937" width="1" height="9" fill="#777"/>
<text class="ax" x="1920" y="956" text-anchor="end">6. Oct</text>
</g>
<text class="arial" x="1920.3" y="933.6" text-anchor="end" style="font-size:10px" fill="#777">Your local time zone</text>
<text class="arial" x="20" y="977" style="font-size:10px" fill="#111">©2025 TrendSpider</text>
</svg></body></html>
